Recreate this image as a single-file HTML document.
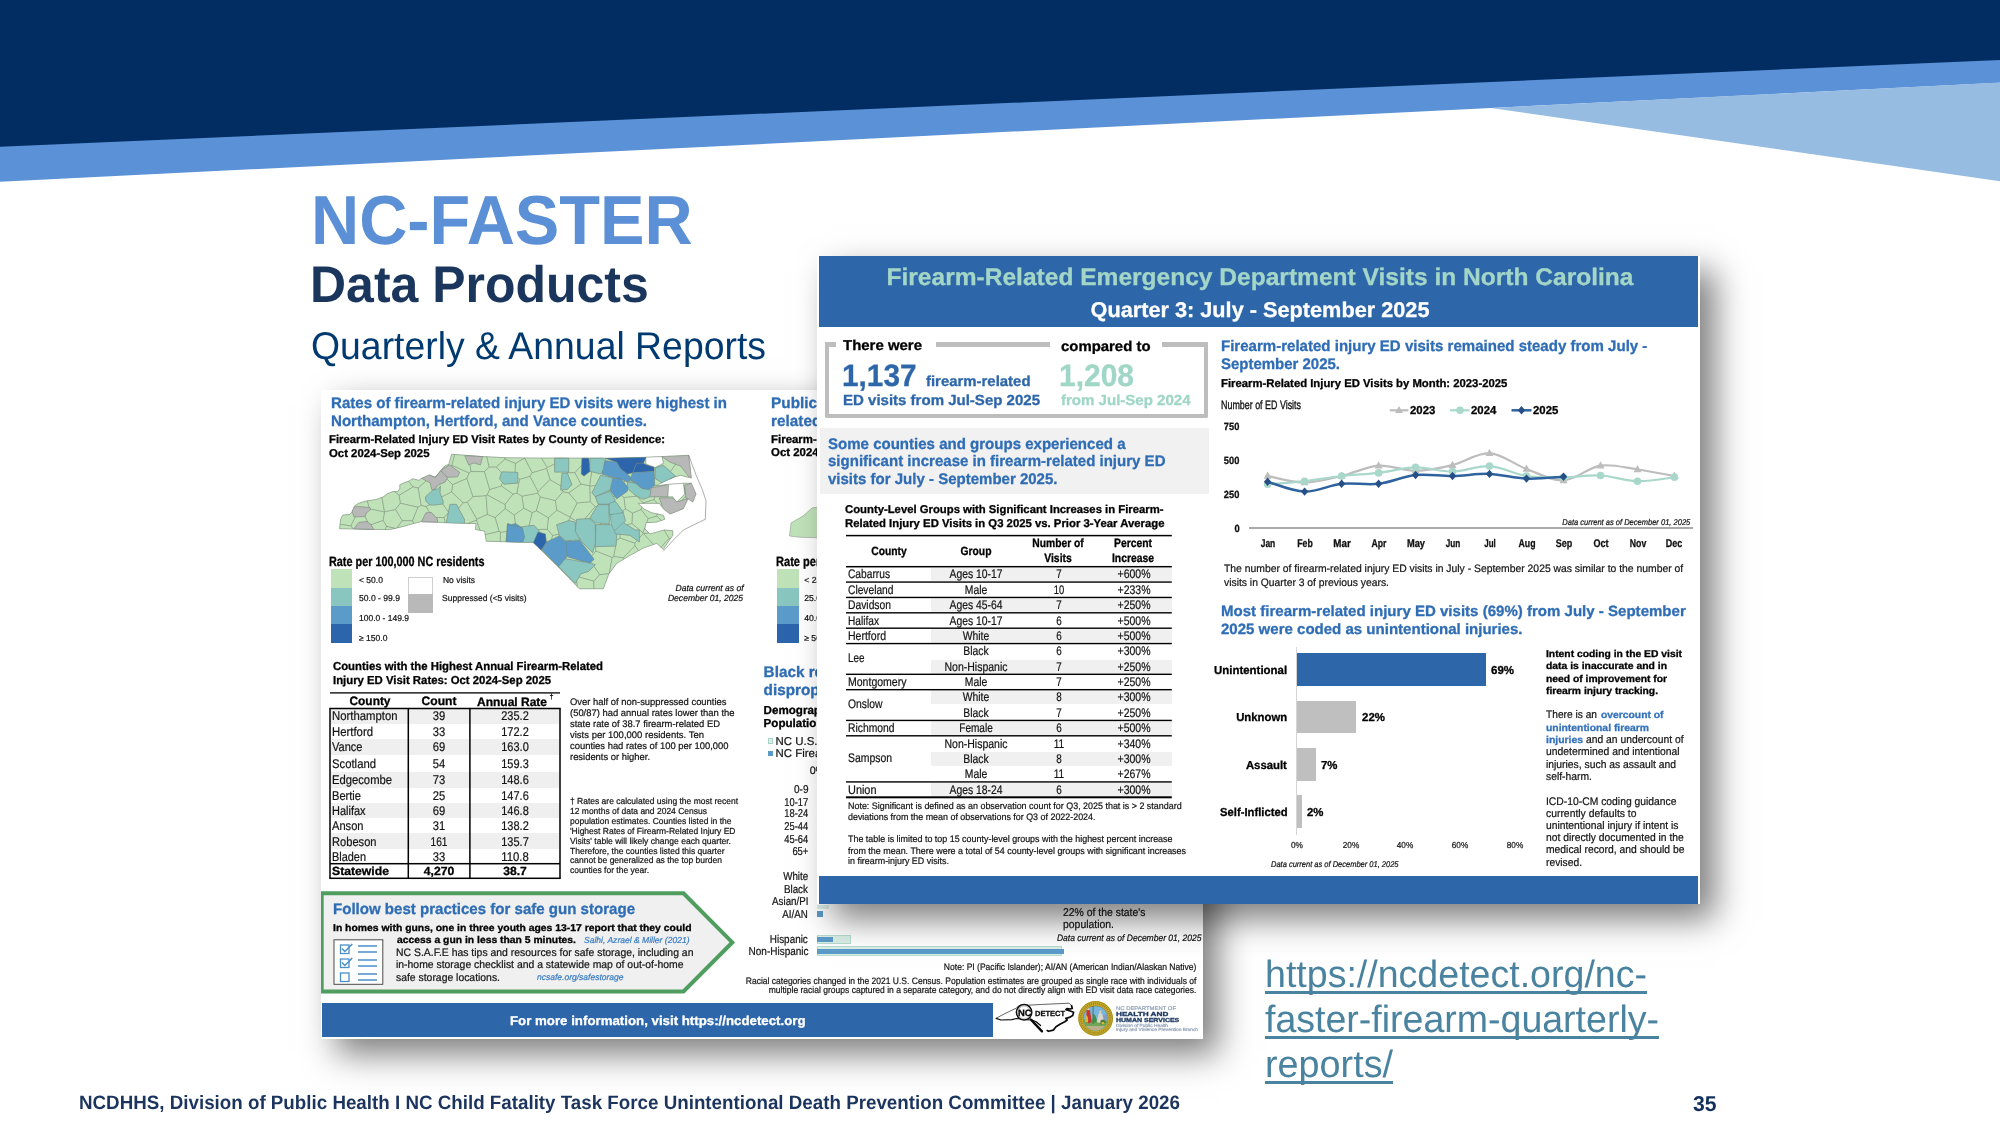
<!DOCTYPE html>
<html><head><meta charset="utf-8"><title>NC-FASTER Data Products</title>
<style>
html,body{margin:0;padding:0;background:#fff;}
body{width:2000px;height:1125px;overflow:hidden;position:relative;font-family:"Liberation Sans",sans-serif;}
.t{position:absolute;white-space:nowrap;margin:0;padding:0;text-rendering:geometricPrecision;}
.r{position:absolute;}
.abs{position:absolute;overflow:visible;}
.slide{position:absolute;left:0;top:0;width:2000px;height:1125px;overflow:hidden;will-change:transform;}
.rep{position:absolute;background:#fff;overflow:hidden;}
.in{position:absolute;}
.rep .t{-webkit-text-stroke:0.22px;}
.rep .b{-webkit-text-stroke:0.3px;}
</style></head>
<body>
<div class="slide">
<svg class="abs" style="left:0;top:0" width="2000" height="200" viewBox="0 0 2000 200">
<polygon points="0,0 2000,0 2000,82.8 0,181.7" fill="#5b91d6"/>
<polygon points="1491,107.9 2000,82.6 2000,181.2" fill="#97bce2"/>
<polygon points="0,0 2000,0 2000,59.9 0,146.8" fill="#012d62"/>
</svg>
<div class="t b" style="font-size:69.34px;line-height:78px;top:181px;color:#5b8fd6;font-weight:700;left:310.90px;transform-origin:0 0;transform:scaleX(0.9624);">NC-FASTER</div>
<div class="t b" style="font-size:51.48px;line-height:58px;top:255px;color:#1b365d;font-weight:700;left:310.30px;transform-origin:0 0;transform:scaleX(0.9709);">Data Products</div>
<div class="t" style="font-size:38.58px;line-height:43px;top:325px;color:#003a70;left:310.50px;transform-origin:0 0;transform:scaleX(0.9689);">Quarterly &amp; Annual Reports</div>
<div class="t b" style="font-size:19.42px;line-height:22px;top:1092px;color:#1c355e;font-weight:700;left:79.00px;transform-origin:0 0;transform:scaleX(0.9671);">NCDHHS, Division of Public Health I NC Child Fatality Task Force Unintentional Death Prevention Committee | January 2026</div>
<div class="t b" style="font-size:21.42px;line-height:24px;top:1092px;color:#12305e;font-weight:700;left:1692.60px;transform-origin:0 0;transform:scaleX(0.9911);">35</div>
<div class="t" style="font-size:38.06px;line-height:42px;top:954px;color:#4a839f;left:1265.00px;transform-origin:0 0;transform:scaleX(0.9870);text-decoration:underline;text-decoration-thickness:2.8px;text-underline-offset:4.2px;text-decoration-skip-ink:none;">https://ncdetect.org/nc-</div>
<div class="t" style="font-size:38.06px;line-height:42px;top:999px;color:#4a839f;left:1265.00px;transform-origin:0 0;transform:scaleX(0.9860);text-decoration:underline;text-decoration-thickness:2.8px;text-underline-offset:4.2px;text-decoration-skip-ink:none;">faster-firearm-quarterly-</div>
<div class="t" style="font-size:38.06px;line-height:42px;top:1044px;color:#4a839f;left:1265.00px;transform-origin:0 0;transform:scaleX(0.9924);text-decoration:underline;text-decoration-thickness:2.8px;text-underline-offset:4.2px;text-decoration-skip-ink:none;">reports/</div>
<div class="rep" style="left:320.5px;top:390px;width:882.5px;height:648.5px;box-shadow:15.2px 15.2px 31.8px rgba(0,0,0,0.515);">
<div class="in" style="left:-320.5px;top:-390px;width:2000px;height:1125px;">
<div class="t b" style="font-size:15.30px;line-height:17px;top:395px;color:#2f6db5;font-weight:700;left:330.70px;transform-origin:0 0;transform:scaleX(0.9848);">Rates of firearm-related injury ED visits were highest in</div>
<div class="t b" style="font-size:15.30px;line-height:17px;top:413px;color:#2f6db5;font-weight:700;left:330.70px;transform-origin:0 0;transform:scaleX(0.9862);">Northampton, Hertford, and Vance counties.</div>
<div class="t b" style="font-size:11.40px;line-height:12px;top:434px;color:#000;font-weight:700;left:329.00px;transform-origin:0 0;transform:scaleX(0.9946);">Firearm-Related Injury ED Visit Rates by County of Residence:</div>
<div class="t b" style="font-size:11.40px;line-height:12px;top:448px;color:#000;font-weight:700;left:329.00px;transform-origin:0 0;transform:scaleX(0.9981);">Oct 2024-Sep 2025</div>
<svg class="abs" style="left:335px;top:450px" width="380" height="145" viewBox="335 450 380 145">
<g stroke="#6f7d70" stroke-width="0.4" stroke-linejoin="round">
<polygon points="451.6,454.3 450.0,460.1 448.9,464.4 444.7,466.0 440.9,470.3 438.8,472.9 435.1,477.2 429.2,475.1 422.3,477.9 419.1,480.4 412.7,478.8 409.5,480.9 404.7,482.5 399.9,484.7 399.9,488.4 397.7,491.6 392.9,491.6 387.6,493.7 383.3,496.9 375.9,499.6 365.2,501.2 358.8,503.3 354.5,506.0 352.4,511.3 349.7,514.5 342.8,515.1 340.7,519.3 339.6,528.7 353.5,528.9 373.7,529.5 389.7,529.5 395.1,528.4 403.6,526.3 411.1,524.1 420.7,521.7 436.7,522.0 446.3,522.7 464.4,523.4 476.1,523.6 475.6,529.5 484.7,531.1 486.3,541.2 506.0,541.7 510.0,542.0 533.3,542.7 558.0,566.7 579.3,588.7 603.3,588.7 606.0,581.3 608.7,574.0 616.7,563.3 630.0,555.3 643.3,548.0 656.7,543.3 663.3,549.3 668.0,542.0 672.7,535.3 672.7,530.7 664.7,530.0 650.0,534.0 644.7,528.7 646.0,522.7 656.7,522.0 664.7,519.3 663.3,515.3 651.3,512.7 643.3,508.7 638.0,503.3 650.0,503.3 659.3,503.3 663.3,508.7 670.0,514.0 683.3,508.7 688.0,498.7 692.7,502.0 696.0,494.0 691.3,483.3 683.3,483.3 668.7,484.4 654.7,486.0 662.0,482.7 675.3,476.7 680.7,475.3 691.3,478.0 690.0,466.0 688.7,455.3 646.0,457.3 603.3,458.3 510.0,458.0 482.5,456.6" fill="#c0e2b9"/>
<polygon points="466.9,478.5 469.2,472.9 451.8,465.3 450.7,465.8 459.6,472.4 457.5,476.7 447.3,477.2 445.5,475.7 447.3,477.7 446.8,478.8 452.6,484.7" fill="#c0e2b9"/>
<polygon points="575.0,472.8 581.7,465.2 582.0,458.3 583.7,458.2 560.7,458.1 568.7,458.3 568.7,472.0 567.3,472.0 567.9,472.9" fill="#c0e2b9"/>
<polygon points="537.7,493.2 521.8,496.2 523.7,508.3 532.3,512.7 536.4,510.9 540.4,496.9" fill="#c0e2b9"/>
<polygon points="367.5,529.2 354.0,528.7 358.8,522.5 366.8,521.5 367.8,522.2 365.2,516.5 355.3,516.7 350.8,525.9 353.1,528.9" fill="#c0e2b9"/>
<polygon points="540.4,496.9 536.4,510.9 548.3,517.8 556.9,510.3 555.5,500.5" fill="#c0e2b9"/>
<polygon points="637.0,496.2 643.1,503.0 654.1,499.7 654.8,496.7 650.0,496.7 643.3,499.3" fill="#c0e2b9"/>
<polygon points="562.9,491.6 555.5,500.5 556.9,510.3 570.1,517.2 577.3,502.9 568.8,492.8" fill="#c0e2b9"/>
<polygon points="547.2,467.4 541.6,458.1 524.7,458.0 532.1,472.8 546.6,468.6" fill="#c0e2b9"/>
<polygon points="570.1,517.2 570.3,517.7 576.5,521.0 576.7,519.3 585.0,518.9 595.3,506.5 590.2,501.7 577.3,502.9" fill="#c0e2b9"/>
<polygon points="505.0,504.6 513.0,494.1 501.4,485.9 489.5,489.5 487.1,494.9" fill="#c0e2b9"/>
<polygon points="616.8,540.1 616.0,546.0 615.6,546.0 613.6,556.6 623.2,557.8 635.0,545.8 634.9,543.1 620.1,538.0" fill="#c0e2b9"/>
<polygon points="604.9,504.0 598.0,504.0 595.3,496.7 592.0,492.7 595.7,485.4 589.9,486.0 590.2,501.7 595.3,506.5 596.7,506.9 598.0,504.7 604.4,504.7" fill="#c0e2b9"/>
<polygon points="608.0,490.9 595.3,496.7 608.5,491.9" fill="#c0e2b9"/>
<polygon points="384.6,511.7 383.0,520.4 386.6,526.4 395.0,528.4 397.1,527.9 402.4,520.7 395.6,509.4" fill="#c0e2b9"/>
<polygon points="616.4,540.0 620.1,538.0 620.2,534.4 616.7,534.0 615.3,532.7 616.7,535.3" fill="#c0e2b9"/>
<polygon points="595.3,529.3 595.1,544.1 595.4,544.2 595.9,529.5" fill="#c0e2b9"/>
<polygon points="500.0,541.6 506.0,541.7 506.9,531.4 500.4,532.2" fill="#c0e2b9"/>
<polygon points="569.9,579.0 577.4,586.7 576.8,580.7 575.3,583.3 570.6,578.6" fill="#c0e2b9"/>
<polygon points="353.0,509.8 352.4,511.3 349.7,514.5 342.8,515.1 340.7,519.3 340.1,524.3 350.8,525.9 355.3,516.7 354.0,516.7 352.4,511.9" fill="#c0e2b9"/>
<polygon points="442.8,503.9 435.6,504.9 429.7,504.9 429.4,504.6 426.0,506.5 429.5,512.6 431.3,512.4 435.9,517.4 444.1,517.6 448.4,512.9 448.5,512.0" fill="#c0e2b9"/>
<polygon points="670.4,478.9 675.3,476.7 680.7,475.3 688.8,477.4 689.2,476.9 680.7,466.0 675.6,464.1 670.4,471.6 675.3,476.0 669.9,478.7" fill="#c0e2b9"/>
<polygon points="408.6,481.2 399.9,484.7 399.9,488.4 397.7,491.6 394.4,491.6 399.0,495.4 413.2,486.9" fill="#c0e2b9"/>
<polygon points="426.0,506.5 421.1,505.3 417.8,507.2 412.4,520.8 413.8,523.4 420.7,521.7 430.7,521.9 422.8,521.7 421.7,521.3 426.0,512.9 429.5,512.6" fill="#c0e2b9"/>
<polygon points="562.9,491.6 562.2,489.8 560.7,490.0 560.8,485.8 549.9,479.5 538.0,491.5 537.7,493.2 540.4,496.9 555.5,500.5" fill="#c0e2b9"/>
<polygon points="476.5,520.1 467.6,523.4 476.1,523.6 475.6,529.5 480.1,530.3" fill="#c0e2b9"/>
<polygon points="467.1,502.3 476.8,519.2 487.5,514.4 486.1,495.6 473.0,496.5" fill="#c0e2b9"/>
<polygon points="418.1,488.0 426.3,480.8 421.8,478.3 419.1,480.4 412.7,478.8 408.6,481.2 413.2,486.9" fill="#c0e2b9"/>
<polygon points="471.1,471.5 470.0,464.4 468.7,464.9 464.9,455.9 468.8,456.0 468.7,455.6 454.5,454.5 451.8,465.3 469.2,472.9" fill="#c0e2b9"/>
<polygon points="369.0,507.5 370.0,507.6 370.4,509.1 384.4,512.0 381.9,497.4 375.9,499.6 367.2,500.9" fill="#c0e2b9"/>
<polygon points="560.8,485.8 562.0,473.3 567.3,473.3 567.5,473.7 567.9,472.9 567.3,472.0 554.7,472.0 554.7,463.8 547.2,467.4 546.6,468.6 549.9,479.5" fill="#c0e2b9"/>
<polygon points="495.1,517.5 499.1,531.4 500.4,532.2 506.9,531.4 507.6,523.6 511.3,524.7 515.5,523.6 514.3,515.1 505.2,508.5" fill="#c0e2b9"/>
<polygon points="463.1,502.9 467.1,502.3 473.0,496.5 466.9,478.5 452.6,484.7 451.5,491.9" fill="#c0e2b9"/>
<polygon points="636.0,483.2 630.1,480.0 628.5,481.2" fill="#c0e2b9"/>
<polygon points="632.7,472.7 627.3,474.0 630.9,477.6" fill="#c0e2b9"/>
<polygon points="639.3,538.0 639.3,542.0 637.2,540.5 634.9,543.1 635.0,545.8 638.4,550.7 643.3,548.0 653.5,544.4 643.7,533.7 643.2,533.5" fill="#c0e2b9"/>
<polygon points="570.6,578.6 559.3,567.3 558.7,567.4 569.9,579.0" fill="#c0e2b9"/>
<polygon points="643.0,532.9 644.9,527.8 646.0,522.7 646.7,522.6 648.2,518.5 641.1,509.4 632.5,513.1 631.8,523.5" fill="#c0e2b9"/>
<polygon points="583.9,561.5 567.3,556.7 567.1,554.0 566.0,558.0 565.4,558.7 583.6,562.1" fill="#c0e2b9"/>
<polygon points="608.8,509.9 609.3,524.0 600.3,523.1 600.5,524.7 610.1,524.7 611.5,524.1 610.0,514.7 611.6,514.4 609.3,514.0 609.3,510.3" fill="#c0e2b9"/>
<polygon points="595.7,485.4 600.7,475.3 608.5,477.1 608.9,476.2 602.0,474.0 602.8,470.8 600.7,474.0 591.6,471.7 589.6,485.7 589.9,486.0" fill="#c0e2b9"/>
<polygon points="435.0,488.7 431.9,490.0 430.3,483.1 426.3,480.8 418.1,488.0 421.1,505.3 426.0,506.5 429.4,504.6 426.0,501.2 425.5,496.9 432.4,490.5 435.5,489.6" fill="#c0e2b9"/>
<polygon points="476.5,520.1 476.8,519.2 467.1,502.3 463.1,502.9 458.5,508.3 464.4,519.3 464.4,523.4 467.6,523.4" fill="#c0e2b9"/>
<polygon points="489.5,489.5 501.4,485.9 502.5,482.4 499.6,478.8 501.5,472.7 496.3,466.8 489.2,467.0 484.3,471.6" fill="#c0e2b9"/>
<polygon points="386.6,526.4 383.0,520.4 371.0,524.6 373.7,529.4 367.5,529.3 385.2,529.5" fill="#c0e2b9"/>
<polygon points="543.0,547.3 541.3,550.0 538.4,547.6 548.2,557.2 548.4,556.4 542.0,550.0 543.6,547.2" fill="#c0e2b9"/>
<polygon points="656.5,516.0 661.4,520.4 664.7,519.3 663.3,515.3 657.1,513.9" fill="#c0e2b9"/>
<polygon points="548.3,517.8 547.2,529.2 552.7,535.6 559.1,534.2 556.7,524.7 568.5,520.7 570.3,517.7 570.1,517.2 556.9,510.3" fill="#c0e2b9"/>
<polygon points="593.8,581.2 599.8,574.7 593.9,566.1 588.7,571.3 580.7,574.0 579.0,577.0" fill="#c0e2b9"/>
<polygon points="676.8,502.0 682.5,500.3 685.8,496.1 683.8,486.8 684.7,494.0" fill="#c0e2b9"/>
<polygon points="417.8,507.2 421.1,505.3 418.1,488.0 413.2,486.9 399.0,495.4 400.3,503.3" fill="#c0e2b9"/>
<polygon points="583.7,458.2 588.7,458.3 589.4,465.2 590.0,465.6 590.0,458.3 603.3,458.3" fill="#c0e2b9"/>
<polygon points="444.0,466.8 435.1,477.2 429.2,475.1 435.6,477.7 440.9,470.8 442.0,472.0 442.0,469.7 445.2,467.6" fill="#c0e2b9"/>
<polygon points="628.5,481.2 627.3,482.0 635.3,483.3 639.8,486.9 636.0,483.2" fill="#c0e2b9"/>
<polygon points="624.1,482.7 627.8,487.2 627.3,482.0 624.5,480.6" fill="#c0e2b9"/>
<polygon points="621.4,495.5 624.0,497.6 637.0,496.2 635.3,495.3 628.0,488.7 627.9,487.8 627.3,491.3" fill="#c0e2b9"/>
<polygon points="537.7,493.2 538.0,491.5 530.0,476.2 519.5,479.3 516.7,493.1 521.8,496.2" fill="#c0e2b9"/>
<polygon points="577.4,586.7 579.3,588.7 594.1,588.7 593.8,581.2 579.0,577.0 576.8,580.7" fill="#c0e2b9"/>
<polygon points="463.1,502.9 451.5,491.9 441.5,496.9 443.1,501.2 442.8,503.9 448.5,512.0 450.0,504.4 456.4,504.4 458.5,508.3" fill="#c0e2b9"/>
<polygon points="669.2,538.4 664.2,530.1 650.0,534.0 648.8,532.8 643.7,533.7 653.5,544.4 656.7,543.3 661.0,547.2" fill="#c0e2b9"/>
<polygon points="592.3,563.9 595.3,564.7 593.9,566.1 599.8,574.7 608.8,573.8 609.4,573.1 612.3,557.4 596.0,551.0 591.5,556.0 594.0,559.3 591.1,562.2" fill="#c0e2b9"/>
<polygon points="596.0,551.0 595.4,544.2 595.1,544.1 592.7,552.7 582.0,542.0 580.2,539.1 579.4,538.9 580.0,540.0 575.9,540.2 574.8,540.9 580.0,540.7 591.5,556.0" fill="#c0e2b9"/>
<polygon points="547.2,529.2 537.7,529.5 539.3,531.3 538.9,532.2 545.3,534.0 546.3,542.0 543.0,547.3 543.6,547.2 546.7,542.0 551.4,539.7 552.7,535.6" fill="#c0e2b9"/>
<polygon points="570.9,540.4 566.0,540.7 559.3,535.3 559.1,534.2 552.7,535.6 551.4,539.7 559.3,536.0 566.1,542.3 566.0,541.3 571.9,541.1" fill="#c0e2b9"/>
<polygon points="524.7,458.0 504.8,457.7 504.8,459.1 515.5,463.5" fill="#c0e2b9"/>
<polygon points="594.1,588.7 603.3,588.7 608.8,573.8 599.8,574.7 593.8,581.2" fill="#c0e2b9"/>
<polygon points="516.7,493.1 513.0,494.1 505.0,504.6 505.2,508.5 514.3,515.1 523.7,508.3 521.8,496.2" fill="#c0e2b9"/>
<polygon points="589.6,485.7 581.0,484.0 568.8,492.8 577.3,502.9 590.2,501.7" fill="#c0e2b9"/>
<polygon points="514.3,515.1 515.5,523.6 520.6,526.9 529.0,525.9 532.3,512.7 523.7,508.3" fill="#c0e2b9"/>
<polygon points="652.5,487.8 666.8,485.0 667.0,484.6 654.7,486.0 662.0,482.7 655.3,478.7 655.3,470.2 654.0,469.7 654.7,485.3 652.1,487.4" fill="#c0e2b9"/>
<polygon points="399.0,495.4 394.4,491.6 392.9,491.6 387.6,493.7 383.3,496.9 381.9,497.4 384.6,511.7 395.6,509.4 400.3,503.3" fill="#c0e2b9"/>
<polygon points="669.2,538.4 661.0,547.2 663.3,549.3 670.4,538.6" fill="#c0e2b9"/>
<polygon points="669.2,538.4 670.4,538.6 672.7,535.3 672.7,530.7 664.2,530.1" fill="#c0e2b9"/>
<polygon points="476.8,519.2 476.5,520.1 480.1,530.3 484.7,531.1 485.2,534.7 499.1,531.4 495.1,517.5 487.5,514.4" fill="#c0e2b9"/>
<polygon points="654.3,467.0 646.0,464.0 646.0,457.3 643.3,463.3 646.0,464.7 654.0,467.3 654.0,467.7" fill="#c0e2b9"/>
<polygon points="560.7,458.1 541.6,458.1 547.2,467.4 554.7,463.8 554.7,458.3" fill="#c0e2b9"/>
<polygon points="473.0,496.5 486.1,495.6 487.1,494.9 489.5,489.5 484.3,471.6 471.1,471.5 469.2,472.9 466.9,478.5" fill="#c0e2b9"/>
<polygon points="367.2,500.9 358.8,503.3 354.5,506.0 353.8,507.7 356.7,506.5 369.0,507.5" fill="#c0e2b9"/>
<polygon points="605.3,460.7 616.7,462.0 605.3,458.3 604.0,465.8" fill="#c0e2b9"/>
<polygon points="635.0,545.8 623.2,557.8 624.0,558.9 638.4,550.7" fill="#c0e2b9"/>
<polygon points="575.0,472.8 567.9,472.9 567.5,473.7 572.0,484.7 567.3,489.3 562.2,489.8 562.9,491.6 568.8,492.8 581.0,484.0" fill="#c0e2b9"/>
<polygon points="500.4,532.2 499.1,531.4 485.2,534.7 486.3,541.2 500.0,541.6" fill="#c0e2b9"/>
<polygon points="504.8,459.1 496.3,466.8 501.5,472.7 501.7,471.9 515.2,472.3 515.5,463.5" fill="#c0e2b9"/>
<polygon points="489.2,467.0 486.9,456.8 482.5,456.6 480.4,464.9 474.0,462.8 470.0,464.4 471.1,471.5 484.3,471.6" fill="#c0e2b9"/>
<polygon points="468.8,456.0 482.5,456.6 468.7,455.6" fill="#c0e2b9"/>
<polygon points="386.6,526.4 385.2,529.5 389.7,529.5 395.0,528.4" fill="#c0e2b9"/>
<polygon points="625.5,509.0 624.0,497.6 621.3,495.5 616.7,498.7 614.7,496.2 613.1,496.3 615.3,500.0 613.3,502.0 615.3,501.3 622.6,511.0" fill="#c0e2b9"/>
<polygon points="604.4,504.7 608.7,504.7 608.8,509.9 609.3,510.3 609.3,504.0 604.9,504.0" fill="#c0e2b9"/>
<polygon points="548.2,557.2 558.7,567.4 559.3,567.3 548.4,556.4" fill="#c0e2b9"/>
<polygon points="623.2,557.8 613.6,556.6 612.3,557.4 609.4,573.1 616.7,563.3 624.0,558.9" fill="#c0e2b9"/>
<polygon points="626.7,524.7 635.3,530.0 639.3,530.0 639.3,538.0 643.2,533.5 643.0,532.9 631.8,523.5" fill="#c0e2b9"/>
<polygon points="620.1,538.0 634.9,543.1 637.2,540.5 630.0,535.3 620.2,534.4" fill="#c0e2b9"/>
<polygon points="614.7,496.2 610.0,490.0 608.0,490.9 608.5,491.9 610.0,491.3 613.1,496.3" fill="#c0e2b9"/>
<polygon points="624.5,480.6 620.7,478.7 624.1,482.7" fill="#c0e2b9"/>
<polygon points="608.5,477.1 612.7,478.0 620.7,478.7 612.7,477.3 608.9,476.2" fill="#c0e2b9"/>
<polygon points="643.2,533.5 648.8,532.8 644.7,528.7 644.9,527.8 643.0,532.9" fill="#c0e2b9"/>
<polygon points="656.5,516.0 648.2,518.5 646.7,522.6 656.7,522.0 661.4,520.4" fill="#c0e2b9"/>
<polygon points="682.5,500.3 687.4,498.8 686.0,498.0 685.8,496.1" fill="#c0e2b9"/>
<polygon points="655.3,470.2 655.3,468.0 663.3,465.3 670.4,471.6 675.6,464.1 670.0,462.0 662.0,456.7 663.3,463.3 655.3,467.3 654.3,467.0 654.0,469.7" fill="#c0e2b9"/>
<polygon points="395.6,509.4 402.4,520.7 412.4,520.8 417.8,507.2 400.3,503.3" fill="#c0e2b9"/>
<polygon points="452.6,484.7 446.8,478.8 445.2,482.0 437.7,485.2 435.6,488.4 435.0,488.7 435.5,489.6 437.7,488.9 440.4,486.3 439.9,492.7 441.5,496.9 451.5,491.9" fill="#c0e2b9"/>
<polygon points="536.4,510.9 532.3,512.7 529.0,525.9 534.0,525.3 537.7,529.5 547.2,529.2 548.3,517.8" fill="#c0e2b9"/>
<polygon points="524.6,458.2 515.5,463.5 515.2,472.3 517.7,472.4 517.7,477.7 519.5,479.3 530.0,476.2 532.1,472.8" fill="#c0e2b9"/>
<polygon points="350.8,525.9 340.1,524.3 339.6,528.7 353.1,528.9" fill="#c0e2b9"/>
<polygon points="397.1,527.9 403.6,526.3 413.8,523.4 412.4,520.8 402.4,520.7" fill="#c0e2b9"/>
<polygon points="685.6,494.1 684.7,485.3 691.3,483.3 683.3,483.3" fill="#c0e2b9"/>
<polygon points="451.8,465.3 454.5,454.5 451.6,454.3 448.9,464.4 444.7,466.0 444.0,466.8 445.2,467.6 449.5,464.9 450.7,465.8" fill="#c0e2b9"/>
<polygon points="591.6,471.7 590.0,471.3 584.0,476.0 581.3,474.0 581.7,465.2 575.0,472.8 581.0,484.0 589.6,485.7" fill="#c0e2b9"/>
<polygon points="654.1,499.7 657.1,503.3 659.3,503.3 661.3,505.9 662.3,505.9 659.3,498.0 672.7,498.0 676.7,502.0 672.5,496.7 654.8,496.7" fill="#c0e2b9"/>
<polygon points="383.0,520.4 384.4,512.0 370.4,509.1 370.5,509.7 366.3,512.9 365.2,516.5 367.8,522.2 371.0,524.6" fill="#c0e2b9"/>
<polygon points="596.0,551.0 612.3,557.4 613.6,556.6 615.6,546.0 595.6,546.7" fill="#c0e2b9"/>
<polygon points="570.3,517.7 568.5,520.7 575.3,522.0 575.3,531.3 576.5,521.0" fill="#c0e2b9"/>
<polygon points="444.1,517.6 445.1,522.7 446.3,522.7 448.4,512.9" fill="#c0e2b9"/>
<polygon points="487.5,514.4 495.1,517.5 505.2,508.5 505.0,504.6 487.1,494.9 486.1,495.6" fill="#c0e2b9"/>
<polygon points="504.8,459.1 504.8,457.7 486.9,456.8 489.2,467.0 496.3,466.8" fill="#c0e2b9"/>
<polygon points="656.5,516.0 657.1,513.9 651.3,512.7 643.3,508.7 641.8,507.1 641.1,509.4 648.2,518.5" fill="#c0e2b9"/>
<polygon points="654.1,499.7 643.1,503.0 643.0,503.3 657.1,503.3" fill="#c0e2b9"/>
<polygon points="546.6,468.6 532.1,472.8 530.0,476.2 538.0,491.5 549.9,479.5" fill="#c0e2b9"/>
<polygon points="641.8,507.1 638.0,503.3 643.0,503.3 643.1,503.0 637.0,496.2 624.0,497.6 625.5,509.0 632.5,513.1 641.1,509.4" fill="#c0e2b9"/>
<polygon points="600.3,523.1 595.3,522.7 590.0,518.0 596.7,506.9 595.3,506.5 585.0,518.9 590.0,518.7 595.3,524.0 595.3,529.3 595.9,529.5 596.0,524.7 600.5,524.7" fill="#c0e2b9"/>
<polygon points="435.9,517.4 437.2,518.8 437.7,522.0 430.7,521.9 445.1,522.7 444.1,517.6" fill="#c0e2b9"/>
<polygon points="517.7,477.7 517.7,483.1 503.9,484.1 502.5,482.4 501.4,485.9 513.0,494.1 516.7,493.1 519.5,479.3" fill="#c0e2b9"/>
<polygon points="632.5,513.1 625.5,509.0 622.6,511.0 623.3,512.0 621.4,513.0 623.3,512.7 625.3,520.7 623.8,522.9 626.7,524.7 631.8,523.5" fill="#c0e2b9"/>
<polygon points="468.7,464.9 474.0,462.8 480.4,464.9 482.5,456.6 464.9,455.9" fill="#b8b8b8"/>
<polygon points="442.0,472.9 447.3,477.2 457.5,476.7 459.6,472.4 449.5,464.9 442.0,469.7" fill="#b8b8b8"/>
<polygon points="430.3,483.1 431.9,490.0 435.6,488.4 437.7,485.2 445.2,482.0 447.3,477.7 440.9,470.8 435.6,477.7 429.2,475.1 422.0,478.2 421.8,478.3" fill="#b8b8b8"/>
<polygon points="352.4,511.9 354.0,516.7 365.2,516.7 366.3,512.9 370.5,509.7 370.0,507.6 356.7,506.5 353.8,507.7 352.5,511.0" fill="#b8b8b8"/>
<polygon points="373.7,529.4 371.1,524.7 366.8,521.5 358.8,522.5 354.0,528.7" fill="#b8b8b8"/>
<polygon points="422.8,521.7 437.7,522.0 437.2,518.8 431.3,512.4 426.0,512.9 421.7,521.3" fill="#b8b8b8"/>
<polygon points="426.0,501.2 429.7,504.9 435.6,504.9 443.1,503.9 443.1,501.2 439.9,492.7 440.4,486.3 437.7,488.9 432.4,490.5 425.5,496.9" fill="#8ac7c1"/>
<polygon points="447.3,518.3 446.3,522.7 464.4,523.4 464.4,519.3 456.4,504.4 450.0,504.4" fill="#8ac7c1"/>
<polygon points="499.6,478.8 503.9,484.1 517.7,483.1 517.7,472.4 501.7,471.9" fill="#8ac7c1"/>
<polygon points="506.0,541.7 522.0,541.7 525.2,537.5 522.0,527.9 515.6,523.6 511.3,524.7 507.6,523.6" fill="#5b9bca"/>
<polygon points="554.7,472.0 568.7,472.0 568.7,458.3 554.7,458.3" fill="#8ac7c1"/>
<polygon points="560.7,490.0 567.3,489.3 572.0,484.7 567.3,473.3 562.0,473.3" fill="#8ac7c1"/>
<polygon points="581.3,474.0 584.0,476.0 590.0,471.3 588.7,458.3 582.0,458.3" fill="#2c65ab"/>
<polygon points="590.0,471.3 600.7,474.0 603.3,470.0 605.3,458.3 603.3,458.3 590.0,458.3" fill="#8ac7c1"/>
<polygon points="602.0,474.0 612.7,477.3 620.7,478.7 627.3,482.0 632.0,478.7 627.3,474.0 620.7,468.7 616.7,462.0 605.3,460.7" fill="#5b9bca"/>
<polygon points="616.7,462.0 620.7,468.7 627.3,474.0 632.7,472.7 636.7,463.3 643.3,463.3 646.0,457.3 605.3,458.3" fill="#2c65ab"/>
<polygon points="632.7,472.7 654.0,471.3 654.0,467.3 646.0,464.7 643.3,463.3 636.7,463.3" fill="#2c65ab"/>
<polygon points="646.0,464.0 655.3,467.3 663.3,463.3 662.0,456.7 646.0,457.3" fill="#ffffff"/>
<polygon points="670.0,462.0 680.7,466.0 688.7,476.7 691.3,478.0 690.0,466.0 688.7,455.3 662.0,456.7" fill="#b8b8b8"/>
<polygon points="655.3,478.7 662.0,482.7 670.0,478.7 675.3,476.0 663.3,465.3 655.3,468.0" fill="#8ac7c1"/>
<polygon points="630.0,480.0 635.3,482.7 642.0,488.7 648.7,490.0 654.7,485.3 654.0,471.3 632.7,472.7" fill="#5b9bca"/>
<polygon points="610.0,490.0 616.7,498.7 627.3,491.3 628.0,487.3 620.7,478.7 612.7,478.0" fill="#5b9bca"/>
<polygon points="592.0,492.7 595.3,496.7 610.0,490.0 612.7,478.0 600.7,475.3" fill="#8ac7c1"/>
<polygon points="598.0,504.0 611.3,504.0 615.3,500.0 610.0,491.3 595.3,496.7" fill="#8ac7c1"/>
<polygon points="628.0,488.7 635.3,495.3 643.3,499.3 650.0,496.7 651.3,490.0 642.0,488.7 635.3,483.3 627.3,482.0" fill="#8ac7c1"/>
<polygon points="650.0,496.7 668.0,496.7 668.7,484.7 651.3,488.0" fill="#b8b8b8"/>
<polygon points="668.0,496.7 672.7,496.7 676.7,502.0 684.7,494.0 683.3,483.3 668.7,484.4 668.6,484.4" fill="#ffffff"/>
<polygon points="686.0,498.0 687.8,499.1 688.0,498.7 692.7,502.0 696.0,494.0 691.3,483.3 684.7,485.3" fill="#b8b8b8"/>
<polygon points="663.3,508.7 670.0,514.0 683.3,508.7 688.0,498.7 676.7,502.0 672.7,498.0 659.3,498.0" fill="#b8b8b8"/>
<polygon points="590.0,518.0 595.3,522.7 609.3,524.0 608.7,504.7 598.0,504.7" fill="#8ac7c1"/>
<polygon points="609.3,514.0 616.7,515.3 623.3,512.0 615.3,501.3 609.3,503.3" fill="#8ac7c1"/>
<polygon points="612.7,531.3 620.7,527.3 625.3,520.7 623.3,512.7 610.0,514.7" fill="#8ac7c1"/>
<polygon points="559.3,535.3 566.0,540.7 580.0,540.0 575.3,531.3 575.3,522.0 568.7,520.7 556.7,524.7" fill="#8ac7c1"/>
<polygon points="575.3,531.3 582.0,542.0 592.7,552.7 595.3,543.3 595.3,524.0 590.0,518.7 576.7,519.3" fill="#8ac7c1"/>
<polygon points="595.3,546.7 616.0,546.0 616.7,535.3 611.3,524.7 596.0,524.7" fill="#8ac7c1"/>
<polygon points="616.7,534.0 630.0,535.3 639.3,542.0 639.3,530.0 635.3,530.0 623.3,522.7 614.0,531.3" fill="#8ac7c1"/>
<polygon points="523.3,542.3 534.0,542.3 539.3,531.3 534.0,525.3 522.7,526.7" fill="#8ac7c1"/>
<polygon points="507.3,541.8 510.0,542.0 519.3,542.3 522.7,542.3 524.7,536.7 522.0,527.3 507.3,524.7" fill="#5b9bca"/>
<polygon points="533.3,542.7 541.3,550.0 546.3,542.0 545.3,534.0 538.0,532.0" fill="#2c65ab"/>
<polygon points="542.0,550.0 558.7,566.7 566.0,558.0 568.0,548.7 566.0,542.0 559.3,536.0 546.7,542.0" fill="#5b9bca"/>
<polygon points="567.3,556.7 590.0,563.3 594.0,559.3 580.0,540.7 566.0,541.3" fill="#5b9bca"/>
<polygon points="575.3,583.3 580.7,574.0 588.7,571.3 595.3,564.7 590.0,563.3 565.3,558.7 558.7,566.7" fill="#8ac7c1"/>
</g>
<polyline points="688.7,455.3 696.7,476.7 702.0,488.7 706.0,500.7 705.3,519.3 694.0,524.7 683.3,530.0 672.7,540.7 663.3,551.3" fill="none" stroke="#5c5c5c" stroke-width="0.5"/>
</svg>
<div class="t b" style="font-size:13.50px;line-height:15px;top:554px;color:#000;font-weight:700;left:329.00px;transform-origin:0 0;transform:scaleX(0.8032);">Rate per 100,000 NC residents</div>
<div class="r" style="left:331.20px;top:569.30px;width:21.30px;height:18.50px;background:#c0e2b9;"></div>
<div class="r" style="left:331.20px;top:587.65px;width:21.30px;height:18.50px;background:#89c6c0;"></div>
<div class="r" style="left:331.20px;top:606.00px;width:21.30px;height:18.50px;background:#5b9bca;"></div>
<div class="r" style="left:331.20px;top:624.35px;width:21.30px;height:18.50px;background:#2c65ab;"></div>
<div class="t" style="font-size:8.66px;line-height:10px;top:575px;color:#141414;left:359.20px;transform-origin:0 0;transform:scaleX(0.9871);">&lt; 50.0</div>
<div class="t" style="font-size:8.66px;line-height:10px;top:593px;color:#141414;left:359.20px;transform-origin:0 0;transform:scaleX(0.9906);">50.0 - 99.9</div>
<div class="t" style="font-size:8.66px;line-height:10px;top:613px;color:#141414;left:359.20px;transform-origin:0 0;transform:scaleX(0.9798);">100.0 - 149.9</div>
<div class="t" style="font-size:8.66px;line-height:10px;top:633px;color:#141414;left:359.20px;transform-origin:0 0;transform:scaleX(0.9886);">≥ 150.0</div>
<div class="r" style="left:408.00px;top:576.50px;width:24.50px;height:36.00px;background:#fff;border:0.8px solid #cfcfcf;box-sizing:border-box;"></div>
<div class="r" style="left:408.00px;top:594.00px;width:24.50px;height:18.50px;background:#b9b9b9;"></div>
<div class="t" style="font-size:8.66px;line-height:10px;top:575px;color:#141414;left:443.40px;transform-origin:0 0;transform:scaleX(0.9780);">No visits</div>
<div class="t" style="font-size:8.66px;line-height:10px;top:593px;color:#141414;left:442.40px;transform-origin:0 0;transform:scaleX(0.9838);">Suppressed (&lt;5 visits)</div>
<div class="t" style="font-size:8.88px;line-height:10px;top:583px;color:#141414;font-style:italic;right:1256.60px;transform-origin:100% 0;transform:scaleX(0.9639);">Data current as of</div>
<div class="t" style="font-size:8.88px;line-height:10px;top:593px;color:#141414;font-style:italic;right:1256.60px;transform-origin:100% 0;transform:scaleX(0.9621);">December 01, 2025</div>
<div class="t b" style="font-size:11.60px;line-height:13px;top:660px;color:#000;font-weight:700;left:332.90px;transform-origin:0 0;transform:scaleX(0.9785);">Counties with the Highest Annual Firearm-Related</div>
<div class="t b" style="font-size:11.60px;line-height:13px;top:674px;color:#000;font-weight:700;left:332.90px;transform-origin:0 0;transform:scaleX(0.9787);">Injury ED Visit Rates: Oct 2024-Sep 2025</div>
<svg class="abs" style="left:329px;top:691px" width="232" height="4"><rect x="1.00" y="1.25" width="230.00" height="1.30" fill="#000"/></svg>
<div class="t b" style="font-size:12.20px;line-height:14px;top:694px;color:#000;font-weight:700;left:369.50px;transform-origin:50% 0;transform:translateX(-50%) scaleX(0.9766);">County</div>
<div class="t b" style="font-size:12.20px;line-height:14px;top:694px;color:#000;font-weight:700;left:439.30px;transform-origin:50% 0;transform:translateX(-50%) scaleX(0.9942);">Count</div>
<div class="t b" style="font-size:12.20px;line-height:14px;top:695px;color:#000;font-weight:700;left:512.00px;transform-origin:50% 0;transform:translateX(-50%) scaleX(0.9844);">Annual Rate</div>
<div class="t" style="font-size:7.22px;line-height:9px;top:692px;color:#000;left:549.50px;transform-origin:0 0;">†</div>
<div class="r" style="left:331.00px;top:707.90px;width:228.00px;height:15.80px;background:#efefef;"></div>
<div class="t" style="font-size:12.65px;line-height:14px;top:709px;color:#141414;left:332.20px;transform-origin:0 0;transform:scaleX(0.8963);">Northampton</div>
<div class="t" style="font-size:12.65px;line-height:14px;top:709px;color:#141414;left:439.30px;transform-origin:50% 0;transform:translateX(-50%) scaleX(0.8889);">39</div>
<div class="t" style="font-size:12.65px;line-height:14px;top:709px;color:#141414;left:515.00px;transform-origin:50% 0;transform:translateX(-50%) scaleX(0.8691);">235.2</div>
<div class="t" style="font-size:12.65px;line-height:14px;top:725px;color:#141414;left:332.20px;transform-origin:0 0;transform:scaleX(0.8977);">Hertford</div>
<div class="t" style="font-size:12.65px;line-height:14px;top:725px;color:#141414;left:439.30px;transform-origin:50% 0;transform:translateX(-50%) scaleX(0.8889);">33</div>
<div class="t" style="font-size:12.65px;line-height:14px;top:725px;color:#141414;left:515.00px;transform-origin:50% 0;transform:translateX(-50%) scaleX(0.8691);">172.2</div>
<div class="r" style="left:331.00px;top:738.80px;width:228.00px;height:15.80px;background:#efefef;"></div>
<div class="t" style="font-size:12.65px;line-height:14px;top:740px;color:#141414;left:332.20px;transform-origin:0 0;transform:scaleX(0.8738);">Vance</div>
<div class="t" style="font-size:12.65px;line-height:14px;top:740px;color:#141414;left:439.30px;transform-origin:50% 0;transform:translateX(-50%) scaleX(0.8889);">69</div>
<div class="t" style="font-size:12.65px;line-height:14px;top:740px;color:#141414;left:515.00px;transform-origin:50% 0;transform:translateX(-50%) scaleX(0.8691);">163.0</div>
<div class="t" style="font-size:12.65px;line-height:14px;top:757px;color:#141414;left:332.20px;transform-origin:0 0;transform:scaleX(0.8943);">Scotland</div>
<div class="t" style="font-size:12.65px;line-height:14px;top:757px;color:#141414;left:439.30px;transform-origin:50% 0;transform:translateX(-50%) scaleX(0.8889);">54</div>
<div class="t" style="font-size:12.65px;line-height:14px;top:757px;color:#141414;left:515.00px;transform-origin:50% 0;transform:translateX(-50%) scaleX(0.8691);">159.3</div>
<div class="r" style="left:331.00px;top:771.80px;width:228.00px;height:15.80px;background:#efefef;"></div>
<div class="t" style="font-size:12.65px;line-height:14px;top:773px;color:#141414;left:332.20px;transform-origin:0 0;transform:scaleX(0.8893);">Edgecombe</div>
<div class="t" style="font-size:12.65px;line-height:14px;top:773px;color:#141414;left:439.30px;transform-origin:50% 0;transform:translateX(-50%) scaleX(0.8889);">73</div>
<div class="t" style="font-size:12.65px;line-height:14px;top:773px;color:#141414;left:515.00px;transform-origin:50% 0;transform:translateX(-50%) scaleX(0.8691);">148.6</div>
<div class="t" style="font-size:12.65px;line-height:14px;top:789px;color:#141414;left:332.20px;transform-origin:0 0;transform:scaleX(0.8780);">Bertie</div>
<div class="t" style="font-size:12.65px;line-height:14px;top:789px;color:#141414;left:439.30px;transform-origin:50% 0;transform:translateX(-50%) scaleX(0.8889);">25</div>
<div class="t" style="font-size:12.65px;line-height:14px;top:789px;color:#141414;left:515.00px;transform-origin:50% 0;transform:translateX(-50%) scaleX(0.8691);">147.6</div>
<div class="r" style="left:331.00px;top:802.60px;width:228.00px;height:15.80px;background:#efefef;"></div>
<div class="t" style="font-size:12.65px;line-height:14px;top:804px;color:#141414;left:332.20px;transform-origin:0 0;transform:scaleX(0.8670);">Halifax</div>
<div class="t" style="font-size:12.65px;line-height:14px;top:804px;color:#141414;left:439.30px;transform-origin:50% 0;transform:translateX(-50%) scaleX(0.8889);">69</div>
<div class="t" style="font-size:12.65px;line-height:14px;top:804px;color:#141414;left:515.00px;transform-origin:50% 0;transform:translateX(-50%) scaleX(0.8691);">146.8</div>
<div class="t" style="font-size:12.65px;line-height:14px;top:819px;color:#141414;left:332.20px;transform-origin:0 0;transform:scaleX(0.8788);">Anson</div>
<div class="t" style="font-size:12.65px;line-height:14px;top:819px;color:#141414;left:439.30px;transform-origin:50% 0;transform:translateX(-50%) scaleX(0.8889);">31</div>
<div class="t" style="font-size:12.65px;line-height:14px;top:819px;color:#141414;left:515.00px;transform-origin:50% 0;transform:translateX(-50%) scaleX(0.8691);">138.2</div>
<div class="r" style="left:331.00px;top:833.10px;width:228.00px;height:15.80px;background:#efefef;"></div>
<div class="t" style="font-size:12.65px;line-height:14px;top:835px;color:#141414;left:332.20px;transform-origin:0 0;transform:scaleX(0.8793);">Robeson</div>
<div class="t" style="font-size:12.65px;line-height:14px;top:835px;color:#141414;left:439.30px;transform-origin:50% 0;transform:translateX(-50%) scaleX(0.8059);">161</div>
<div class="t" style="font-size:12.65px;line-height:14px;top:835px;color:#141414;left:515.00px;transform-origin:50% 0;transform:translateX(-50%) scaleX(0.8691);">135.7</div>
<div class="t" style="font-size:12.65px;line-height:14px;top:850px;color:#141414;left:332.20px;transform-origin:0 0;transform:scaleX(0.8635);">Bladen</div>
<div class="t" style="font-size:12.65px;line-height:14px;top:850px;color:#141414;left:439.30px;transform-origin:50% 0;transform:translateX(-50%) scaleX(0.8889);">33</div>
<div class="t" style="font-size:12.65px;line-height:14px;top:850px;color:#141414;left:515.00px;transform-origin:50% 0;transform:translateX(-50%) scaleX(0.8957);">110.8</div>
<svg class="abs" style="left:328px;top:706px" width="234" height="5"><rect x="1.30" y="1.75" width="231.40" height="1.50" fill="#000"/></svg>
<svg class="abs" style="left:328px;top:876px" width="234" height="5"><rect x="1.30" y="1.55" width="231.40" height="1.50" fill="#000"/></svg>
<svg class="abs" style="left:328px;top:707px" width="4" height="173"><rect x="1.25" y="1.50" width="1.50" height="169.80" fill="#000"/></svg>
<svg class="abs" style="left:558px;top:707px" width="4" height="173"><rect x="1.25" y="1.50" width="1.50" height="169.80" fill="#000"/></svg>
<svg class="abs" style="left:406px;top:707px" width="5" height="173"><rect x="1.55" y="1.50" width="1.50" height="169.80" fill="#000"/></svg>
<svg class="abs" style="left:468px;top:707px" width="4" height="173"><rect x="1.15" y="1.50" width="1.50" height="169.80" fill="#000"/></svg>
<svg class="abs" style="left:329px;top:861px" width="232" height="5"><rect x="1.00" y="1.95" width="230.00" height="1.50" fill="#000"/></svg>
<div class="t b" style="font-size:11.80px;line-height:14px;top:864px;color:#000;font-weight:700;left:332.20px;transform-origin:0 0;transform:scaleX(1.0349);">Statewide</div>
<div class="t b" style="font-size:11.80px;line-height:14px;top:864px;color:#000;font-weight:700;left:439.30px;transform-origin:50% 0;transform:translateX(-50%) scaleX(1.0328);">4,270</div>
<div class="t b" style="font-size:11.80px;line-height:14px;top:864px;color:#000;font-weight:700;left:515.00px;transform-origin:50% 0;transform:translateX(-50%) scaleX(1.0231);">38.7</div>
<div class="t" style="font-size:9.55px;line-height:11px;top:697px;color:#141414;left:570.00px;transform-origin:0 0;transform:scaleX(0.9862);">Over half of non-suppressed counties</div>
<div class="t" style="font-size:9.55px;line-height:11px;top:708px;color:#141414;left:570.00px;transform-origin:0 0;transform:scaleX(0.9871);">(50/87) had annual rates lower than the</div>
<div class="t" style="font-size:9.55px;line-height:11px;top:719px;color:#141414;left:570.00px;transform-origin:0 0;transform:scaleX(0.9849);">state rate of 38.7 firearm-related ED</div>
<div class="t" style="font-size:9.55px;line-height:11px;top:730px;color:#141414;left:570.00px;transform-origin:0 0;transform:scaleX(0.9954);">vists per 100,000 residents. Ten</div>
<div class="t" style="font-size:9.55px;line-height:11px;top:741px;color:#141414;left:570.00px;transform-origin:0 0;transform:scaleX(0.9855);">counties had rates of 100 per 100,000</div>
<div class="t" style="font-size:9.55px;line-height:11px;top:752px;color:#141414;left:570.00px;transform-origin:0 0;transform:scaleX(0.9852);">residents or higher.</div>
<div class="t" style="font-size:8.77px;line-height:10px;top:796px;color:#141414;left:570.00px;transform-origin:0 0;transform:scaleX(0.9685);">† Rates are calculated using the most recent</div>
<div class="t" style="font-size:8.77px;line-height:10px;top:806px;color:#141414;left:570.00px;transform-origin:0 0;transform:scaleX(0.9694);">12 months of data and 2024 Census</div>
<div class="t" style="font-size:8.77px;line-height:10px;top:816px;color:#141414;left:570.00px;transform-origin:0 0;transform:scaleX(0.9691);">population estimates. Counties listed in the</div>
<div class="t" style="font-size:8.77px;line-height:10px;top:826px;color:#141414;left:570.00px;transform-origin:0 0;transform:scaleX(0.9694);">'Highest Rates of Firearm-Related Injury ED</div>
<div class="t" style="font-size:8.77px;line-height:10px;top:836px;color:#141414;left:570.00px;transform-origin:0 0;transform:scaleX(0.9744);">Visits' table will likely change each quarter.</div>
<div class="t" style="font-size:8.77px;line-height:10px;top:846px;color:#141414;left:570.00px;transform-origin:0 0;transform:scaleX(0.9697);">Therefore, the counties listed this quarter</div>
<div class="t" style="font-size:8.77px;line-height:10px;top:855px;color:#141414;left:570.00px;transform-origin:0 0;transform:scaleX(0.9685);">cannot be generalized as the top burden</div>
<div class="t" style="font-size:8.77px;line-height:10px;top:865px;color:#141414;left:570.00px;transform-origin:0 0;transform:scaleX(0.9708);">counties for the year.</div>
<svg class="abs" style="left:315px;top:885px" width="430" height="115" viewBox="315 885 430 115">
<polygon points="321.7,893.3 683.5,893.3 732.3,942.4 683.5,991.5 321.7,991.5" fill="#f0f0f0" stroke="#4f9e5f" stroke-width="4" stroke-linejoin="miter"/>
<rect x="334" y="939.8" width="48.8" height="44.5" fill="#fff" stroke="#4a4a4a" stroke-width="1"/>
<g stroke="#4b8fc6" stroke-width="1.3" fill="none">
<rect x="340.5" y="945" width="8.5" height="8.5"/><rect x="340.5" y="959" width="8.5" height="8.5"/><rect x="340.5" y="973" width="8.5" height="8.5"/>
<path d="M342 948.5l2.8 3 7.5-7.5M342 962.5l2.8 3 7.5-7.5" stroke-width="1.5"/>
<path d="M358 946h19M358 952h19M358 960h19M358 966h19M358 974h19M358 980h19" stroke-width="1.4"/>
</g>
</svg>
<div class="t b" style="font-size:15.30px;line-height:17px;top:901px;color:#2f6db5;font-weight:700;left:332.90px;transform-origin:0 0;transform:scaleX(0.9842);">Follow best practices for safe gun storage</div>
<div class="t b" style="font-size:9.80px;line-height:11px;top:923px;color:#000;font-weight:700;left:333.00px;transform-origin:0 0;transform:scaleX(1.0605);">In homes with guns, one in three youth ages 13-17 report that they could</div>
<div class="t b" style="font-size:9.80px;line-height:11px;top:935px;color:#000;font-weight:700;left:397.10px;transform-origin:0 0;transform:scaleX(1.0570);">access a gun in less than 5 minutes.</div>
<div class="t" style="font-size:8.66px;line-height:10px;top:935px;color:#3a7cc4;font-style:italic;left:583.80px;transform-origin:0 0;transform:scaleX(0.9863);">Salhi, Azrael &amp; Miller (2021)</div>
<div class="t" style="font-size:10.88px;line-height:12px;top:947px;color:#141414;left:396.30px;transform-origin:0 0;transform:scaleX(0.9593);">NC S.A.F.E has tips and resources for safe storage, including an</div>
<div class="t" style="font-size:10.88px;line-height:12px;top:959px;color:#141414;left:396.30px;transform-origin:0 0;transform:scaleX(0.9569);">in-home storage checklist and a statewide map of out-of-home</div>
<div class="t" style="font-size:10.88px;line-height:12px;top:972px;color:#141414;left:396.30px;transform-origin:0 0;transform:scaleX(0.9556);">safe storage locations.</div>
<div class="t" style="font-size:8.66px;line-height:10px;top:972px;color:#3a7cc4;font-style:italic;left:536.70px;transform-origin:0 0;transform:scaleX(0.9823);">ncsafe.org/safestorage</div>
<div class="r" style="left:321.70px;top:1002.60px;width:671.40px;height:34.50px;background:#2e66aa;"></div>
<div class="t b" style="font-size:12.80px;line-height:15px;top:1013px;color:#fff;font-weight:700;left:509.70px;transform-origin:0 0;transform:scaleX(1.0368);">For more information, visit https://ncdetect.org</div>
<svg class="abs" style="left:993px;top:1000px" width="210" height="38" viewBox="993 1000 210 38">
<polygon points="996.1,1018.4 1001.0,1015.6 1009.8,1011.2 1016.4,1008.1 1018.8,1005.7 1069.2,1003.2 1071.6,1005.7 1073.6,1012.3 1072.7,1015.6 1065.9,1018.4 1064.8,1021.8 1056.0,1026.8 1053.3,1030.1 1048.5,1031.3 1040.6,1025.5 1036.2,1021.7 1031.8,1020.0 1016.4,1018.5 1001.0,1020.0" fill="#fdfdfd"/>
<polyline points="996.1,1018.4 1001.0,1015.6 1009.8,1011.2 1016.4,1008.1 1018.8,1005.7 1042.8,1004.4 1069.2,1003.2 1071.6,1005.7" fill="none" stroke="#222" stroke-width="0.7" stroke-linejoin="round"/>
<polyline points="1071.6,1005.7 1072.3,1008.5 1070.1,1009.0 1067.0,1008.5 1065.9,1009.6 1070.3,1011.0 1073.6,1012.3 1072.7,1015.6 1069.4,1017.4 1065.9,1018.4 1067.2,1020.0 1064.8,1021.8 1060.4,1024.0 1056.0,1026.8 1053.3,1030.1 1048.5,1031.3 1047.2,1030.6" fill="none" stroke="#0a0a0a" stroke-width="1.7" stroke-linejoin="round" stroke-linecap="round"/>
<polyline points="1040.6,1025.5 1036.2,1021.7 1031.8,1020.0 1026.3,1019.6 1016.4,1018.5 1012.0,1019.6 1001.0,1020.0 996.1,1018.4" fill="none" stroke="#0a0a0a" stroke-width="1.2" stroke-linejoin="round" stroke-linecap="round"/>
<circle cx="1024.1" cy="1012.3" r="7.7" fill="#fff" stroke="#111" stroke-width="1.5"/>
<circle cx="1024.1" cy="1012.3" r="6.2" fill="none" stroke="#777" stroke-width="0.4"/>
<path d="M1029.6 1018 L1031.2 1019.9" stroke="#555" stroke-width="1.6"/>
<path d="M1031.2 1019.9 L1042 1031.3" stroke="#0a0a0a" stroke-width="2.4" stroke-linecap="round"/>
<circle cx="1095.6" cy="1018.4" r="17.4" fill="#cdb02c"/>
<circle cx="1095.6" cy="1018.4" r="16.8" fill="none" stroke="#8f7a1c" stroke-width="0.7"/>
<circle cx="1095.6" cy="1018.4" r="14.7" fill="none" stroke="#9c8420" stroke-width="2.2" stroke-dasharray="1.1 0.9"/>
<circle cx="1095.6" cy="1018.4" r="12.6" fill="#74b6de" stroke="#8a741b" stroke-width="0.6"/>
<clipPath id="sealclip"><circle cx="1095.6" cy="1018.4" r="12.3"/></clipPath>
<g clip-path="url(#sealclip)"><rect x="1082" y="1019.5" width="28" height="12" fill="#6da757"/><rect x="1082" y="1026" width="28" height="6" fill="#b9b08a"/><path d="M1099 1016 l8 -2 4 3 v4 h-12z" fill="#7f9fc0"/><path d="M1086.5 1010.5 q2.2 -2 3.6 0.4 l1.6 10.8 q-2.6 2.6 -5.6 0.6z" fill="#c8362c"/><path d="M1086.2 1015 q2.5 1.5 1.8 7.5 l-3 -0.5z" fill="#d9b83a"/><circle cx="1088.2" cy="1009" r="1.2" fill="#e7c9a4"/><rect x="1092.7" y="1007" width="0.7" height="17" fill="#5a4a2a"/><path d="M1092.2 1007 h1.8 l-0.4 -1.8 h-1z" fill="#c0392b"/><path d="M1092.9 1013.5 q3.5 1.2 4 8.5 l-4.2 1z" fill="#3f8f47"/><circle cx="1100.3" cy="1011.8" r="1.25" fill="#e7c9a4"/><path d="M1098.7 1013.3 q2 -1 3.6 0.8 l1.8 7.2 q-3.6 2.8 -7.4 0.8z" fill="#d7d5cf"/><path d="M1100.5 1020.5 q3.8 -2.4 5.6 1.6 q-2.4 3 -5.8 2.2z" fill="#5b7a36"/><path d="M1101.5 1022.6 q2 -1.4 3 0.6 q-1.4 1.4 -3 0.8z" fill="#e3c02f"/></g>
</svg>
<div class="t b" style="font-size:9.20px;line-height:10px;top:1008px;color:#0a0a0a;font-weight:700;left:1017.60px;transform-origin:0 0;transform:scaleX(1.0240);">NC</div>
<div class="t b" style="font-size:7.40px;line-height:9px;top:1009px;color:#111;font-weight:700;left:1034.70px;transform-origin:0 0;transform:scaleX(1.0143);">DETECT</div>
<div class="t" style="font-size:5.44px;line-height:6px;top:1006px;color:#93a3b8;left:1116.00px;transform-origin:0 0;transform:scaleX(1.0851);">NC DEPARTMENT OF</div>
<div class="t b" style="font-size:5.80px;line-height:6px;top:1012px;color:#1e3a63;font-weight:700;left:1116.00px;transform-origin:0 0;transform:scaleX(1.4123);">HEALTH AND</div>
<div class="t b" style="font-size:5.80px;line-height:6px;top:1018px;color:#1e3a63;font-weight:700;left:1116.00px;transform-origin:0 0;transform:scaleX(1.2079);">HUMAN SERVICES</div>
<div class="t" style="font-size:4.55px;line-height:5px;top:1023px;color:#93a3b8;left:1116.00px;transform-origin:0 0;transform:scaleX(1.0605);">Division of Public Health</div>
<div class="t" style="font-size:4.55px;line-height:5px;top:1027px;color:#93a3b8;left:1116.00px;transform-origin:0 0;transform:scaleX(1.0613);">Injury and Violence Prevention Branch</div>
<div class="t b" style="font-size:15.30px;line-height:17px;top:395px;color:#2f6db5;font-weight:700;left:771.10px;transform-origin:0 0;">Public health</div>
<div class="t b" style="font-size:15.30px;line-height:17px;top:413px;color:#2f6db5;font-weight:700;left:771.10px;transform-origin:0 0;">related injury</div>
<div class="t b" style="font-size:11.40px;line-height:12px;top:434px;color:#000;font-weight:700;left:771.10px;transform-origin:0 0;">Firearm-Related</div>
<div class="t b" style="font-size:11.40px;line-height:12px;top:447px;color:#000;font-weight:700;left:771.10px;transform-origin:0 0;">Oct 2024-Sep</div>
<svg class="abs" style="left:785px;top:500px" width="40" height="45" viewBox="785 500 40 45">
<path d="M830 505 L812 508 L803 516 L796 520 L791 523 L789.5 536 L800 537.3 L830 538 Z" fill="#c0e2b9" stroke="#7d8c7d" stroke-width="0.5"/>
</svg>
<div class="t b" style="font-size:13.50px;line-height:15px;top:554px;color:#000;font-weight:700;left:775.60px;transform-origin:0 0;transform:scaleX(0.82);">Rate per 100</div>
<div class="r" style="left:777.30px;top:569.30px;width:21.30px;height:18.50px;background:#c0e2b9;"></div>
<div class="r" style="left:777.30px;top:587.65px;width:21.30px;height:18.50px;background:#89c6c0;"></div>
<div class="r" style="left:777.30px;top:606.00px;width:21.30px;height:18.50px;background:#5b9bca;"></div>
<div class="r" style="left:777.30px;top:624.35px;width:21.30px;height:18.50px;background:#2c65ab;"></div>
<div class="t" style="font-size:8.66px;line-height:10px;top:575px;color:#141414;left:804.20px;transform-origin:0 0;">&lt; 25.0</div>
<div class="t" style="font-size:8.66px;line-height:10px;top:593px;color:#141414;left:804.20px;transform-origin:0 0;">25.0 - 39.9</div>
<div class="t" style="font-size:8.66px;line-height:10px;top:613px;color:#141414;left:804.20px;transform-origin:0 0;">40.0 - 49.9</div>
<div class="t" style="font-size:8.66px;line-height:10px;top:633px;color:#141414;left:804.20px;transform-origin:0 0;">≥ 50.0</div>
<div class="t b" style="font-size:15.30px;line-height:17px;top:664px;color:#2f6db5;font-weight:700;left:763.60px;transform-origin:0 0;">Black residents</div>
<div class="t b" style="font-size:15.30px;line-height:17px;top:682px;color:#2f6db5;font-weight:700;left:763.60px;transform-origin:0 0;">dispropor</div>
<div class="t b" style="font-size:11.60px;line-height:13px;top:704px;color:#000;font-weight:700;left:763.60px;transform-origin:0 0;">Demographics</div>
<div class="t b" style="font-size:11.60px;line-height:13px;top:717px;color:#000;font-weight:700;left:763.60px;transform-origin:0 0;">Population</div>
<div class="r" style="left:767.50px;top:738.30px;width:5.30px;height:5.30px;background:#d9efe6;border:0.6px solid #a9d3c3;box-sizing:border-box;"></div>
<div class="r" style="left:767.50px;top:750.80px;width:5.30px;height:5.30px;background:#5b9bca;"></div>
<div class="t" style="font-size:11.43px;line-height:12px;top:736px;color:#141414;left:775.60px;transform-origin:0 0;">NC U.S. Census</div>
<div class="t" style="font-size:11.43px;line-height:12px;top:748px;color:#141414;left:775.60px;transform-origin:0 0;">NC Firearm</div>
<div class="t" style="font-size:10.66px;line-height:12px;top:765px;color:#141414;left:809.70px;transform-origin:0 0;">0%</div>
<div class="t" style="font-size:11.43px;line-height:12px;top:784px;color:#141414;right:1191.80px;transform-origin:100% 0;transform:scaleX(0.8780);">0-9</div>
<div class="t" style="font-size:11.43px;line-height:12px;top:797px;color:#141414;right:1191.80px;transform-origin:100% 0;transform:scaleX(0.8214);">10-17</div>
<div class="t" style="font-size:11.43px;line-height:12px;top:808px;color:#141414;right:1191.80px;transform-origin:100% 0;transform:scaleX(0.8214);">18-24</div>
<div class="t" style="font-size:11.43px;line-height:12px;top:821px;color:#141414;right:1191.80px;transform-origin:100% 0;transform:scaleX(0.8214);">25-44</div>
<div class="t" style="font-size:11.43px;line-height:12px;top:834px;color:#141414;right:1191.80px;transform-origin:100% 0;transform:scaleX(0.8214);">45-64</div>
<div class="t" style="font-size:11.43px;line-height:12px;top:846px;color:#141414;right:1191.80px;transform-origin:100% 0;transform:scaleX(0.8258);">65+</div>
<div class="t" style="font-size:11.43px;line-height:12px;top:871px;color:#141414;right:1191.80px;transform-origin:100% 0;transform:scaleX(0.8561);">White</div>
<div class="t" style="font-size:11.43px;line-height:12px;top:884px;color:#141414;right:1191.80px;transform-origin:100% 0;transform:scaleX(0.8591);">Black</div>
<div class="t" style="font-size:11.43px;line-height:12px;top:896px;color:#141414;right:1191.80px;transform-origin:100% 0;transform:scaleX(0.8579);">Asian/PI</div>
<div class="t" style="font-size:11.43px;line-height:12px;top:909px;color:#141414;right:1191.80px;transform-origin:100% 0;transform:scaleX(0.8545);">AI/AN</div>
<div class="t" style="font-size:11.43px;line-height:12px;top:934px;color:#141414;right:1191.80px;transform-origin:100% 0;transform:scaleX(0.8673);">Hispanic</div>
<div class="t" style="font-size:11.43px;line-height:12px;top:946px;color:#141414;right:1191.80px;transform-origin:100% 0;transform:scaleX(0.8751);">Non-Hispanic</div>
<div class="r" style="left:816.60px;top:905.20px;width:12.50px;height:3.50px;background:#d9efe6;"></div>
<div class="r" style="left:816.60px;top:911.30px;width:6.60px;height:5.80px;background:#5b9bca;"></div>
<div class="r" style="left:816.60px;top:934.90px;width:34.30px;height:8.80px;background:#d9efe6;border:0.6px solid #b6dccd;box-sizing:border-box;"></div>
<div class="r" style="left:816.60px;top:936.80px;width:16.20px;height:5.00px;background:#5b9bca;"></div>
<div class="r" style="left:816.60px;top:946.30px;width:245.00px;height:9.90px;background:#d9efe6;border:0.6px solid #b6dccd;box-sizing:border-box;"></div>
<div class="r" style="left:816.60px;top:948.90px;width:247.50px;height:5.20px;background:#5b9bca;"></div>
<div class="t" style="font-size:11.32px;line-height:12px;top:907px;color:#141414;left:1063.30px;transform-origin:0 0;transform:scaleX(0.9210);">22% of the state's</div>
<div class="t" style="font-size:11.32px;line-height:12px;top:919px;color:#141414;left:1063.30px;transform-origin:0 0;transform:scaleX(0.9213);">population.</div>
<div class="t" style="font-size:9.32px;line-height:10px;top:933px;color:#141414;font-style:italic;right:799.00px;transform-origin:100% 0;transform:scaleX(0.9122);">Data current as of December 01, 2025</div>
<div class="t" style="font-size:9.32px;line-height:10px;top:962px;color:#141414;right:803.30px;transform-origin:100% 0;transform:scaleX(0.9170);">Note: PI (Pacific Islander); AI/AN (American Indian/Alaskan Native)</div>
<div class="t" style="font-size:9.32px;line-height:10px;top:976px;color:#141414;right:803.30px;transform-origin:100% 0;transform:scaleX(0.9132);">Racial categories changed in the 2021 U.S. Census. Population estimates are grouped as single race with individuals of</div>
<div class="t" style="font-size:9.32px;line-height:10px;top:985px;color:#141414;right:803.30px;transform-origin:100% 0;transform:scaleX(0.9149);">multiple racial groups captured in a separate category, and do not directly align with ED visit data race categories.</div>
</div></div>
<div class="rep" style="left:817px;top:255.5px;width:883px;height:648.5px;box-shadow:15.2px 15.2px 31.8px rgba(0,0,0,0.515);">
<div class="in" style="left:-817px;top:-255.5px;width:2000px;height:1125px;">
<div class="r" style="left:818.60px;top:256.00px;width:879.60px;height:71.00px;background:#2e66aa;"></div>
<div class="t b" style="font-size:24.00px;line-height:27px;top:264px;color:#a3d6c7;font-weight:700;left:1259.50px;transform-origin:50% 0;transform:translateX(-50%) scaleX(1.0227);">Firearm-Related Emergency Department Visits in North Carolina</div>
<div class="t b" style="font-size:21.33px;line-height:24px;top:298px;color:#fff;font-weight:700;left:1259.50px;transform-origin:50% 0;transform:translateX(-50%) scaleX(1.0177);">Quarter 3: July - September 2025</div>
<div class="r" style="left:825.20px;top:342.40px;width:383.00px;height:76.00px;background:transparent;border:4.4px solid #bdbdbd;border-top:none;box-sizing:border-box;border-radius:0 0 2px 2px;"></div>
<div class="r" style="left:825.20px;top:342.40px;width:11.00px;height:4.40px;background:#bdbdbd;"></div>
<div class="r" style="left:936.20px;top:342.40px;width:113.40px;height:4.40px;background:#bdbdbd;"></div>
<div class="r" style="left:1161.60px;top:342.40px;width:46.60px;height:4.40px;background:#bdbdbd;"></div>
<div class="t b" style="font-size:14.20px;line-height:16px;top:338px;color:#000;font-weight:700;left:843.30px;transform-origin:0 0;transform:scaleX(1.0544);">There were</div>
<div class="t b" style="font-size:14.20px;line-height:16px;top:339px;color:#000;font-weight:700;left:1061.00px;transform-origin:0 0;transform:scaleX(1.0512);">compared to</div>
<div class="t b" style="font-size:31.00px;line-height:35px;top:358px;color:#2e66aa;font-weight:700;left:842.30px;transform-origin:0 0;transform:scaleX(0.9603);">1,137</div>
<div class="t b" style="font-size:14.60px;line-height:16px;top:374px;color:#2e66aa;font-weight:700;left:925.60px;transform-origin:0 0;transform:scaleX(1.0225);">firearm-related</div>
<div class="t b" style="font-size:14.60px;line-height:16px;top:393px;color:#2e66aa;font-weight:700;left:843.30px;transform-origin:0 0;transform:scaleX(1.0291);">ED visits from Jul-Sep 2025</div>
<div class="t b" style="font-size:31.00px;line-height:35px;top:358px;color:#9fd6c5;font-weight:700;left:1058.90px;transform-origin:0 0;transform:scaleX(0.9668);">1,208</div>
<div class="t b" style="font-size:14.60px;line-height:16px;top:393px;color:#9fd6c5;font-weight:700;left:1061.10px;transform-origin:0 0;transform:scaleX(1.0301);">from Jul-Sep 2024</div>
<div class="r" style="left:820.40px;top:428.40px;width:388.50px;height:66.00px;background:#f1f1f1;"></div>
<div class="t b" style="font-size:15.30px;line-height:17px;top:436px;color:#2f6db5;font-weight:700;left:827.80px;transform-origin:0 0;transform:scaleX(0.9831);">Some counties and groups experienced a</div>
<div class="t b" style="font-size:15.30px;line-height:17px;top:453px;color:#2f6db5;font-weight:700;left:827.80px;transform-origin:0 0;transform:scaleX(0.9827);">significant increase in firearm-related injury ED</div>
<div class="t b" style="font-size:15.30px;line-height:17px;top:471px;color:#2f6db5;font-weight:700;left:827.80px;transform-origin:0 0;transform:scaleX(0.9816);">visits for July - September 2025.</div>
<div class="t b" style="font-size:11.30px;line-height:12px;top:504px;color:#000;font-weight:700;left:845.10px;transform-origin:0 0;transform:scaleX(1.0007);">County-Level Groups with Significant Increases in Firearm-</div>
<div class="t b" style="font-size:11.30px;line-height:12px;top:518px;color:#000;font-weight:700;left:845.10px;transform-origin:0 0;transform:scaleX(1.0029);">Related Injury ED Visits in Q3 2025 vs. Prior 3-Year Average</div>
<svg class="abs" style="left:845px;top:533px" width="328" height="5"><rect x="1.00" y="1.85" width="325.80" height="1.50" fill="#000"/></svg>
<svg class="abs" style="left:845px;top:564px" width="328" height="5"><rect x="1.00" y="1.95" width="325.80" height="1.50" fill="#000"/></svg>
<div class="t b" style="font-size:12.00px;line-height:14px;top:544px;color:#000;font-weight:700;left:888.90px;transform-origin:50% 0;transform:translateX(-50%) scaleX(0.8590);">County</div>
<div class="t b" style="font-size:12.00px;line-height:14px;top:544px;color:#000;font-weight:700;left:976.00px;transform-origin:50% 0;transform:translateX(-50%) scaleX(0.8611);">Group</div>
<div class="t b" style="font-size:12.00px;line-height:14px;top:536px;color:#000;font-weight:700;left:1058.20px;transform-origin:50% 0;transform:translateX(-50%) scaleX(0.8583);">Number of</div>
<div class="t b" style="font-size:12.00px;line-height:14px;top:551px;color:#000;font-weight:700;left:1058.20px;transform-origin:50% 0;transform:translateX(-50%) scaleX(0.8644);">Visits</div>
<div class="t b" style="font-size:12.00px;line-height:14px;top:536px;color:#000;font-weight:700;left:1133.30px;transform-origin:50% 0;transform:translateX(-50%) scaleX(0.8630);">Percent</div>
<div class="t b" style="font-size:12.00px;line-height:14px;top:551px;color:#000;font-weight:700;left:1133.30px;transform-origin:50% 0;transform:translateX(-50%) scaleX(0.8624);">Increase</div>
<div class="r" style="left:931.00px;top:567.50px;width:240.80px;height:13.97px;background:#f0f0f0;"></div>
<div class="t" style="font-size:12.54px;line-height:14px;top:567px;color:#141414;left:848.20px;transform-origin:0 0;transform:scaleX(0.8148);">Cabarrus</div>
<div class="t" style="font-size:12.54px;line-height:14px;top:567px;color:#141414;left:976.00px;transform-origin:50% 0;transform:translateX(-50%) scaleX(0.8267);">Ages 10-17</div>
<div class="t" style="font-size:12.54px;line-height:14px;top:567px;color:#141414;left:1058.50px;transform-origin:50% 0;transform:translateX(-50%) scaleX(0.7875);">7</div>
<div class="t" style="font-size:12.54px;line-height:14px;top:567px;color:#141414;left:1133.60px;transform-origin:50% 0;transform:translateX(-50%) scaleX(0.8381);">+600%</div>
<div class="t" style="font-size:12.54px;line-height:14px;top:583px;color:#141414;left:848.20px;transform-origin:0 0;transform:scaleX(0.8164);">Cleveland</div>
<div class="t" style="font-size:12.54px;line-height:14px;top:583px;color:#141414;left:976.00px;transform-origin:50% 0;transform:translateX(-50%) scaleX(0.8281);">Male</div>
<div class="t" style="font-size:12.54px;line-height:14px;top:583px;color:#141414;left:1058.50px;transform-origin:50% 0;transform:translateX(-50%) scaleX(0.7525);">10</div>
<div class="t" style="font-size:12.54px;line-height:14px;top:583px;color:#141414;left:1133.60px;transform-origin:50% 0;transform:translateX(-50%) scaleX(0.8381);">+233%</div>
<div class="r" style="left:931.00px;top:598.25px;width:240.80px;height:13.97px;background:#f0f0f0;"></div>
<div class="t" style="font-size:12.54px;line-height:14px;top:598px;color:#141414;left:848.20px;transform-origin:0 0;transform:scaleX(0.8230);">Davidson</div>
<div class="t" style="font-size:12.54px;line-height:14px;top:598px;color:#141414;left:976.00px;transform-origin:50% 0;transform:translateX(-50%) scaleX(0.8267);">Ages 45-64</div>
<div class="t" style="font-size:12.54px;line-height:14px;top:598px;color:#141414;left:1058.50px;transform-origin:50% 0;transform:translateX(-50%) scaleX(0.7875);">7</div>
<div class="t" style="font-size:12.54px;line-height:14px;top:598px;color:#141414;left:1133.60px;transform-origin:50% 0;transform:translateX(-50%) scaleX(0.8381);">+250%</div>
<div class="t" style="font-size:12.54px;line-height:14px;top:614px;color:#141414;left:848.20px;transform-origin:0 0;transform:scaleX(0.8091);">Halifax</div>
<div class="t" style="font-size:12.54px;line-height:14px;top:614px;color:#141414;left:976.00px;transform-origin:50% 0;transform:translateX(-50%) scaleX(0.8267);">Ages 10-17</div>
<div class="t" style="font-size:12.54px;line-height:14px;top:614px;color:#141414;left:1058.50px;transform-origin:50% 0;transform:translateX(-50%) scaleX(0.7875);">6</div>
<div class="t" style="font-size:12.54px;line-height:14px;top:614px;color:#141414;left:1133.60px;transform-origin:50% 0;transform:translateX(-50%) scaleX(0.8381);">+500%</div>
<div class="r" style="left:931.00px;top:628.99px;width:240.80px;height:13.97px;background:#f0f0f0;"></div>
<div class="t" style="font-size:12.54px;line-height:14px;top:629px;color:#141414;left:848.20px;transform-origin:0 0;transform:scaleX(0.8392);">Hertford</div>
<div class="t" style="font-size:12.54px;line-height:14px;top:629px;color:#141414;left:976.00px;transform-origin:50% 0;transform:translateX(-50%) scaleX(0.8269);">White</div>
<div class="t" style="font-size:12.54px;line-height:14px;top:629px;color:#141414;left:1058.50px;transform-origin:50% 0;transform:translateX(-50%) scaleX(0.7875);">6</div>
<div class="t" style="font-size:12.54px;line-height:14px;top:629px;color:#141414;left:1133.60px;transform-origin:50% 0;transform:translateX(-50%) scaleX(0.8381);">+500%</div>
<div class="t" style="font-size:12.54px;line-height:14px;top:644px;color:#141414;left:976.00px;transform-origin:50% 0;transform:translateX(-50%) scaleX(0.8318);">Black</div>
<div class="t" style="font-size:12.54px;line-height:14px;top:644px;color:#141414;left:1058.50px;transform-origin:50% 0;transform:translateX(-50%) scaleX(0.7875);">6</div>
<div class="t" style="font-size:12.54px;line-height:14px;top:644px;color:#141414;left:1133.60px;transform-origin:50% 0;transform:translateX(-50%) scaleX(0.8381);">+300%</div>
<div class="r" style="left:931.00px;top:659.74px;width:240.80px;height:13.97px;background:#f0f0f0;"></div>
<div class="t" style="font-size:12.54px;line-height:14px;top:660px;color:#141414;left:976.00px;transform-origin:50% 0;transform:translateX(-50%) scaleX(0.8376);">Non-Hispanic</div>
<div class="t" style="font-size:12.54px;line-height:14px;top:660px;color:#141414;left:1058.50px;transform-origin:50% 0;transform:translateX(-50%) scaleX(0.7875);">7</div>
<div class="t" style="font-size:12.54px;line-height:14px;top:660px;color:#141414;left:1133.60px;transform-origin:50% 0;transform:translateX(-50%) scaleX(0.8381);">+250%</div>
<div class="t" style="font-size:12.54px;line-height:14px;top:675px;color:#141414;left:848.20px;transform-origin:0 0;transform:scaleX(0.8398);">Montgomery</div>
<div class="t" style="font-size:12.54px;line-height:14px;top:675px;color:#141414;left:976.00px;transform-origin:50% 0;transform:translateX(-50%) scaleX(0.8281);">Male</div>
<div class="t" style="font-size:12.54px;line-height:14px;top:675px;color:#141414;left:1058.50px;transform-origin:50% 0;transform:translateX(-50%) scaleX(0.7875);">7</div>
<div class="t" style="font-size:12.54px;line-height:14px;top:675px;color:#141414;left:1133.60px;transform-origin:50% 0;transform:translateX(-50%) scaleX(0.8381);">+250%</div>
<div class="r" style="left:931.00px;top:690.48px;width:240.80px;height:13.97px;background:#f0f0f0;"></div>
<div class="t" style="font-size:12.54px;line-height:14px;top:690px;color:#141414;left:976.00px;transform-origin:50% 0;transform:translateX(-50%) scaleX(0.8269);">White</div>
<div class="t" style="font-size:12.54px;line-height:14px;top:690px;color:#141414;left:1058.50px;transform-origin:50% 0;transform:translateX(-50%) scaleX(0.7875);">8</div>
<div class="t" style="font-size:12.54px;line-height:14px;top:690px;color:#141414;left:1133.60px;transform-origin:50% 0;transform:translateX(-50%) scaleX(0.8381);">+300%</div>
<div class="t" style="font-size:12.54px;line-height:14px;top:706px;color:#141414;left:976.00px;transform-origin:50% 0;transform:translateX(-50%) scaleX(0.8318);">Black</div>
<div class="t" style="font-size:12.54px;line-height:14px;top:706px;color:#141414;left:1058.50px;transform-origin:50% 0;transform:translateX(-50%) scaleX(0.7875);">7</div>
<div class="t" style="font-size:12.54px;line-height:14px;top:706px;color:#141414;left:1133.60px;transform-origin:50% 0;transform:translateX(-50%) scaleX(0.8381);">+250%</div>
<div class="r" style="left:931.00px;top:721.23px;width:240.80px;height:13.97px;background:#f0f0f0;"></div>
<div class="t" style="font-size:12.54px;line-height:14px;top:721px;color:#141414;left:848.20px;transform-origin:0 0;transform:scaleX(0.8241);">Richmond</div>
<div class="t" style="font-size:12.54px;line-height:14px;top:721px;color:#141414;left:976.00px;transform-origin:50% 0;transform:translateX(-50%) scaleX(0.8015);">Female</div>
<div class="t" style="font-size:12.54px;line-height:14px;top:721px;color:#141414;left:1058.50px;transform-origin:50% 0;transform:translateX(-50%) scaleX(0.7875);">6</div>
<div class="t" style="font-size:12.54px;line-height:14px;top:721px;color:#141414;left:1133.60px;transform-origin:50% 0;transform:translateX(-50%) scaleX(0.8381);">+500%</div>
<div class="t" style="font-size:12.54px;line-height:14px;top:737px;color:#141414;left:976.00px;transform-origin:50% 0;transform:translateX(-50%) scaleX(0.8376);">Non-Hispanic</div>
<div class="t" style="font-size:12.54px;line-height:14px;top:737px;color:#141414;left:1058.50px;transform-origin:50% 0;transform:translateX(-50%) scaleX(0.8067);">11</div>
<div class="t" style="font-size:12.54px;line-height:14px;top:737px;color:#141414;left:1133.60px;transform-origin:50% 0;transform:translateX(-50%) scaleX(0.8381);">+340%</div>
<div class="r" style="left:931.00px;top:751.98px;width:240.80px;height:13.97px;background:#f0f0f0;"></div>
<div class="t" style="font-size:12.54px;line-height:14px;top:752px;color:#141414;left:976.00px;transform-origin:50% 0;transform:translateX(-50%) scaleX(0.8318);">Black</div>
<div class="t" style="font-size:12.54px;line-height:14px;top:752px;color:#141414;left:1058.50px;transform-origin:50% 0;transform:translateX(-50%) scaleX(0.7875);">8</div>
<div class="t" style="font-size:12.54px;line-height:14px;top:752px;color:#141414;left:1133.60px;transform-origin:50% 0;transform:translateX(-50%) scaleX(0.8381);">+300%</div>
<div class="t" style="font-size:12.54px;line-height:14px;top:767px;color:#141414;left:976.00px;transform-origin:50% 0;transform:translateX(-50%) scaleX(0.8281);">Male</div>
<div class="t" style="font-size:12.54px;line-height:14px;top:767px;color:#141414;left:1058.50px;transform-origin:50% 0;transform:translateX(-50%) scaleX(0.8067);">11</div>
<div class="t" style="font-size:12.54px;line-height:14px;top:767px;color:#141414;left:1133.60px;transform-origin:50% 0;transform:translateX(-50%) scaleX(0.8381);">+267%</div>
<div class="r" style="left:931.00px;top:782.72px;width:240.80px;height:13.97px;background:#f0f0f0;"></div>
<div class="t" style="font-size:12.54px;line-height:14px;top:783px;color:#141414;left:848.20px;transform-origin:0 0;transform:scaleX(0.8702);">Union</div>
<div class="t" style="font-size:12.54px;line-height:14px;top:783px;color:#141414;left:976.00px;transform-origin:50% 0;transform:translateX(-50%) scaleX(0.8267);">Ages 18-24</div>
<div class="t" style="font-size:12.54px;line-height:14px;top:783px;color:#141414;left:1058.50px;transform-origin:50% 0;transform:translateX(-50%) scaleX(0.7875);">6</div>
<div class="t" style="font-size:12.54px;line-height:14px;top:783px;color:#141414;left:1133.60px;transform-origin:50% 0;transform:translateX(-50%) scaleX(0.8381);">+300%</div>
<div class="t" style="font-size:12.54px;line-height:14px;top:651px;color:#141414;left:848.20px;transform-origin:0 0;transform:scaleX(0.7886);">Lee</div>
<div class="t" style="font-size:12.54px;line-height:14px;top:697px;color:#141414;left:848.20px;transform-origin:0 0;transform:scaleX(0.8254);">Onslow</div>
<div class="t" style="font-size:12.54px;line-height:14px;top:751px;color:#141414;left:848.20px;transform-origin:0 0;transform:scaleX(0.8309);">Sampson</div>
<svg class="abs" style="left:845px;top:580px" width="328" height="4"><rect x="1.00" y="1.37" width="325.80" height="1.40" fill="#000"/></svg>
<svg class="abs" style="left:845px;top:595px" width="328" height="5"><rect x="1.00" y="1.75" width="325.80" height="1.40" fill="#000"/></svg>
<svg class="abs" style="left:845px;top:611px" width="328" height="4"><rect x="1.00" y="1.12" width="325.80" height="1.40" fill="#000"/></svg>
<svg class="abs" style="left:845px;top:626px" width="328" height="4"><rect x="1.00" y="1.49" width="325.80" height="1.40" fill="#000"/></svg>
<svg class="abs" style="left:845px;top:641px" width="328" height="5"><rect x="1.00" y="1.87" width="325.80" height="1.40" fill="#000"/></svg>
<svg class="abs" style="left:845px;top:672px" width="328" height="5"><rect x="1.00" y="1.61" width="325.80" height="1.40" fill="#000"/></svg>
<svg class="abs" style="left:845px;top:687px" width="328" height="5"><rect x="1.00" y="1.98" width="325.80" height="1.40" fill="#000"/></svg>
<svg class="abs" style="left:845px;top:718px" width="328" height="5"><rect x="1.00" y="1.73" width="325.80" height="1.40" fill="#000"/></svg>
<svg class="abs" style="left:845px;top:734px" width="328" height="4"><rect x="1.00" y="1.10" width="325.80" height="1.40" fill="#000"/></svg>
<svg class="abs" style="left:845px;top:780px" width="328" height="4"><rect x="1.00" y="1.22" width="325.80" height="1.40" fill="#000"/></svg>
<svg class="abs" style="left:845px;top:795px" width="328" height="5"><rect x="1.00" y="1.30" width="325.80" height="2.00" fill="#000"/></svg>
<div class="t" style="font-size:9.44px;line-height:11px;top:800px;color:#141414;left:847.90px;transform-origin:0 0;transform:scaleX(0.9471);">Note: Significant is defined as an observation count for Q3, 2025 that is &gt; 2 standard</div>
<div class="t" style="font-size:9.44px;line-height:11px;top:811px;color:#141414;left:847.90px;transform-origin:0 0;transform:scaleX(0.9451);">deviations from the mean of observations for Q3 of 2022-2024.</div>
<div class="t" style="font-size:9.44px;line-height:11px;top:833px;color:#141414;left:847.90px;transform-origin:0 0;transform:scaleX(0.9474);">The table is limited to top 15 county-level groups with the highest percent increase</div>
<div class="t" style="font-size:9.44px;line-height:11px;top:845px;color:#141414;left:847.90px;transform-origin:0 0;transform:scaleX(0.9482);">from the mean. There were a total of 54 county-level groups with significant increases</div>
<div class="t" style="font-size:9.44px;line-height:11px;top:855px;color:#141414;left:847.90px;transform-origin:0 0;transform:scaleX(0.9457);">in firearm-injury ED visits.</div>
<div class="r" style="left:818.60px;top:876.20px;width:879.60px;height:27.70px;background:#2e66aa;"></div>
<div class="t b" style="font-size:15.30px;line-height:17px;top:338px;color:#2f6db5;font-weight:700;left:1221.30px;transform-origin:0 0;transform:scaleX(0.9834);">Firearm-related injury ED visits remained steady from July -</div>
<div class="t b" style="font-size:15.30px;line-height:17px;top:356px;color:#2f6db5;font-weight:700;left:1221.30px;transform-origin:0 0;transform:scaleX(0.9787);">September 2025.</div>
<div class="t b" style="font-size:11.30px;line-height:12px;top:378px;color:#000;font-weight:700;left:1221.00px;transform-origin:0 0;transform:scaleX(1.0008);">Firearm-Related Injury ED Visits by Month: 2023-2025</div>
<div class="t" style="font-size:12.21px;line-height:14px;top:398px;color:#111;left:1220.80px;transform-origin:0 0;transform:scaleX(0.7297);-webkit-text-stroke:0.35px;">Number of ED Visits</div>
<svg class="abs" style="left:1215px;top:395px" width="485" height="140" viewBox="1215 395 485 140">
<line x1="1249" y1="528" x2="1693" y2="528" stroke="#595959" stroke-width="1.1"/>
<path d="M1267.6 476.0 C1273.8 477.1 1292.3 482.5 1304.6 482.5 C1316.9 482.5 1329.2 478.8 1341.6 476.0 C1353.9 473.2 1366.2 466.5 1378.6 465.6 C1390.9 464.7 1403.2 470.9 1415.6 470.8 C1427.9 470.7 1440.2 468.0 1452.5 465.1 C1464.9 462.1 1477.2 452.5 1489.5 453.1 C1501.9 453.8 1514.2 464.4 1526.5 469.0 C1538.9 473.5 1551.2 481.0 1563.5 480.4 C1575.8 479.9 1588.2 467.4 1600.5 465.6 C1612.8 463.8 1625.2 467.8 1637.5 469.5 C1649.8 471.2 1668.3 474.9 1674.5 476.0" fill="none" stroke="#bdbdbd" stroke-width="2.2"/>
<polygon points="1267.6,471.6 1271.6,478.8 1263.6,478.8" fill="#bdbdbd"/>
<polygon points="1304.6,478.1 1308.6,485.3 1300.6,485.3" fill="#bdbdbd"/>
<polygon points="1341.6,471.6 1345.6,478.8 1337.6,478.8" fill="#bdbdbd"/>
<polygon points="1378.6,461.2 1382.6,468.4 1374.6,468.4" fill="#bdbdbd"/>
<polygon points="1415.6,466.4 1419.6,473.6 1411.6,473.6" fill="#bdbdbd"/>
<polygon points="1452.5,460.7 1456.5,467.9 1448.5,467.9" fill="#bdbdbd"/>
<polygon points="1489.5,448.7 1493.5,455.9 1485.5,455.9" fill="#bdbdbd"/>
<polygon points="1526.5,464.6 1530.5,471.8 1522.5,471.8" fill="#bdbdbd"/>
<polygon points="1563.5,476.0 1567.5,483.2 1559.5,483.2" fill="#bdbdbd"/>
<polygon points="1600.5,461.2 1604.5,468.4 1596.5,468.4" fill="#bdbdbd"/>
<polygon points="1637.5,465.1 1641.5,472.3 1633.5,472.3" fill="#bdbdbd"/>
<polygon points="1674.5,471.6 1678.5,478.8 1670.5,478.8" fill="#bdbdbd"/>
<path d="M1267.6 484.3 C1273.8 483.8 1292.3 482.6 1304.6 481.2 C1316.9 479.8 1329.2 477.4 1341.6 476.0 C1353.9 474.6 1366.2 474.3 1378.6 472.9 C1390.9 471.5 1403.2 467.6 1415.6 467.4 C1427.9 467.2 1440.2 471.8 1452.5 471.6 C1464.9 471.4 1477.2 465.4 1489.5 466.1 C1501.9 466.9 1514.2 474.1 1526.5 476.0 C1538.9 477.9 1551.2 477.4 1563.5 477.3 C1575.8 477.2 1588.2 474.8 1600.5 475.5 C1612.8 476.1 1625.2 480.9 1637.5 481.2 C1649.8 481.5 1668.3 478.0 1674.5 477.3" fill="none" stroke="#a9d8cb" stroke-width="2.2"/>
<circle cx="1267.6" cy="484.3" r="3.8" fill="#a9d8cb"/>
<circle cx="1304.6" cy="481.2" r="3.8" fill="#a9d8cb"/>
<circle cx="1341.6" cy="476.0" r="3.8" fill="#a9d8cb"/>
<circle cx="1378.6" cy="472.9" r="3.8" fill="#a9d8cb"/>
<circle cx="1415.6" cy="467.4" r="3.8" fill="#a9d8cb"/>
<circle cx="1452.5" cy="471.6" r="3.8" fill="#a9d8cb"/>
<circle cx="1489.5" cy="466.1" r="3.8" fill="#a9d8cb"/>
<circle cx="1526.5" cy="476.0" r="3.8" fill="#a9d8cb"/>
<circle cx="1563.5" cy="477.3" r="3.8" fill="#a9d8cb"/>
<circle cx="1600.5" cy="475.5" r="3.8" fill="#a9d8cb"/>
<circle cx="1637.5" cy="481.2" r="3.8" fill="#a9d8cb"/>
<circle cx="1674.5" cy="477.3" r="3.8" fill="#a9d8cb"/>
<path d="M1267.6 481.7 C1273.8 483.4 1292.3 491.3 1304.6 491.6 C1316.9 492.0 1329.2 485.1 1341.6 483.8 C1353.9 482.5 1366.2 485.3 1378.6 483.8 C1390.9 482.3 1403.2 476.3 1415.6 475.0 C1427.9 473.7 1440.2 476.2 1452.5 476.0 C1464.9 475.8 1477.2 473.5 1489.5 473.9 C1501.9 474.4 1514.2 478.1 1526.5 478.6 C1538.9 479.1 1557.4 477.1 1563.5 476.8" fill="none" stroke="#2f639f" stroke-width="2.5"/>
<polygon points="1267.6,477.5 1271.3,481.7 1267.6,485.9 1263.9,481.7" fill="#264f85"/>
<polygon points="1304.6,487.4 1308.3,491.6 1304.6,495.8 1300.9,491.6" fill="#264f85"/>
<polygon points="1341.6,479.6 1345.3,483.8 1341.6,488.0 1337.9,483.8" fill="#264f85"/>
<polygon points="1378.6,479.6 1382.3,483.8 1378.6,488.0 1374.9,483.8" fill="#264f85"/>
<polygon points="1415.6,470.8 1419.3,475.0 1415.6,479.2 1411.9,475.0" fill="#264f85"/>
<polygon points="1452.5,471.8 1456.2,476.0 1452.5,480.2 1448.8,476.0" fill="#264f85"/>
<polygon points="1489.5,469.7 1493.2,473.9 1489.5,478.1 1485.8,473.9" fill="#264f85"/>
<polygon points="1526.5,474.4 1530.2,478.6 1526.5,482.8 1522.8,478.6" fill="#264f85"/>
<polygon points="1563.5,472.6 1567.2,476.8 1563.5,481.0 1559.8,476.8" fill="#264f85"/>
<line x1="1389.8" y1="410.3" x2="1408.5" y2="410.3" stroke="#bdbdbd" stroke-width="2.2"/><polygon points="1399,405.9 1403,413.1 1395,413.1" fill="#bdbdbd"/>
<line x1="1450" y1="410.3" x2="1469.5" y2="410.3" stroke="#a9d8cb" stroke-width="2.2"/><circle cx="1460" cy="410.3" r="3.8" fill="#a9d8cb"/>
<line x1="1511.5" y1="410.3" x2="1531.5" y2="410.3" stroke="#2f639f" stroke-width="2.5"/><polygon points="1521.5,406.1 1525.2,410.3 1521.5,414.5 1517.8,410.3" fill="#264f85"/>
</svg>
<div class="t b" style="font-size:11.60px;line-height:13px;top:404px;color:#000;font-weight:700;left:1410.00px;transform-origin:0 0;transform:scaleX(0.9807);">2023</div>
<div class="t b" style="font-size:11.60px;line-height:13px;top:404px;color:#000;font-weight:700;left:1471.20px;transform-origin:0 0;transform:scaleX(0.9807);">2024</div>
<div class="t b" style="font-size:11.60px;line-height:13px;top:404px;color:#000;font-weight:700;left:1532.80px;transform-origin:0 0;transform:scaleX(0.9807);">2025</div>
<div class="t b" style="font-size:10.40px;line-height:11px;top:422px;color:#111;font-weight:700;right:760.20px;transform-origin:100% 0;transform:scaleX(0.8937);">750</div>
<div class="t b" style="font-size:10.40px;line-height:11px;top:456px;color:#111;font-weight:700;right:760.20px;transform-origin:100% 0;transform:scaleX(0.8937);">500</div>
<div class="t b" style="font-size:10.40px;line-height:11px;top:490px;color:#111;font-weight:700;right:760.20px;transform-origin:100% 0;transform:scaleX(0.8937);">250</div>
<div class="t b" style="font-size:10.40px;line-height:11px;top:524px;color:#111;font-weight:700;right:760.20px;transform-origin:100% 0;transform:scaleX(0.8995);">0</div>
<div class="t" style="font-size:8.44px;line-height:10px;top:517px;color:#141414;font-style:italic;right:310.00px;transform-origin:100% 0;transform:scaleX(0.8934);">Data current as of December 01, 2025</div>
<div class="t b" style="font-size:11.20px;line-height:12px;top:538px;color:#111;font-weight:700;left:1267.60px;transform-origin:50% 0;transform:translateX(-50%) scaleX(0.7520);">Jan</div>
<div class="t b" style="font-size:11.20px;line-height:12px;top:538px;color:#111;font-weight:700;left:1304.59px;transform-origin:50% 0;transform:translateX(-50%) scaleX(0.7793);">Feb</div>
<div class="t b" style="font-size:11.20px;line-height:12px;top:538px;color:#111;font-weight:700;left:1341.58px;transform-origin:50% 0;transform:translateX(-50%) scaleX(0.8791);">Mar</div>
<div class="t b" style="font-size:11.20px;line-height:12px;top:538px;color:#111;font-weight:700;left:1378.57px;transform-origin:50% 0;transform:translateX(-50%) scaleX(0.7780);">Apr</div>
<div class="t b" style="font-size:11.20px;line-height:12px;top:538px;color:#111;font-weight:700;left:1415.56px;transform-origin:50% 0;transform:translateX(-50%) scaleX(0.8270);">May</div>
<div class="t b" style="font-size:11.20px;line-height:12px;top:538px;color:#111;font-weight:700;left:1452.55px;transform-origin:50% 0;transform:translateX(-50%) scaleX(0.7290);">Jun</div>
<div class="t b" style="font-size:11.20px;line-height:12px;top:538px;color:#111;font-weight:700;left:1489.54px;transform-origin:50% 0;transform:translateX(-50%) scaleX(0.7111);">Jul</div>
<div class="t b" style="font-size:11.20px;line-height:12px;top:538px;color:#111;font-weight:700;left:1526.53px;transform-origin:50% 0;transform:translateX(-50%) scaleX(0.7816);">Aug</div>
<div class="t b" style="font-size:11.20px;line-height:12px;top:538px;color:#111;font-weight:700;left:1563.52px;transform-origin:50% 0;transform:translateX(-50%) scaleX(0.8037);">Sep</div>
<div class="t b" style="font-size:11.20px;line-height:12px;top:538px;color:#111;font-weight:700;left:1600.51px;transform-origin:50% 0;transform:translateX(-50%) scaleX(0.8040);">Oct</div>
<div class="t b" style="font-size:11.20px;line-height:12px;top:538px;color:#111;font-weight:700;left:1637.50px;transform-origin:50% 0;transform:translateX(-50%) scaleX(0.7805);">Nov</div>
<div class="t b" style="font-size:11.20px;line-height:12px;top:538px;color:#111;font-weight:700;left:1674.49px;transform-origin:50% 0;transform:translateX(-50%) scaleX(0.8037);">Dec</div>
<div class="t" style="font-size:10.77px;line-height:12px;top:563px;color:#141414;left:1223.90px;transform-origin:0 0;transform:scaleX(0.9629);">The number of firearm-related injury ED visits in July - September 2025 was similar to the number of</div>
<div class="t" style="font-size:10.77px;line-height:12px;top:577px;color:#141414;left:1223.90px;transform-origin:0 0;transform:scaleX(0.9608);">visits in Quarter 3 of previous years.</div>
<div class="t b" style="font-size:14.90px;line-height:16px;top:604px;color:#2f6db5;font-weight:700;left:1220.50px;transform-origin:0 0;transform:scaleX(1.0102);">Most firearm-related injury ED visits (69%) from July - September</div>
<div class="t b" style="font-size:14.90px;line-height:16px;top:622px;color:#2f6db5;font-weight:700;left:1220.50px;transform-origin:0 0;transform:scaleX(1.0093);">2025 were coded as unintentional injuries.</div>
<svg class="abs" style="left:1295px;top:646px" width="3" height="190"><rect x="1.00" y="1.20" width="1.00" height="187.80" fill="#d4d4d4"/></svg>
<div class="r" style="left:1296.50px;top:653.00px;width:189.50px;height:33.00px;background:#2e66aa;"></div>
<div class="t b" style="font-size:11.60px;line-height:13px;top:664px;color:#000;font-weight:700;right:712.90px;transform-origin:100% 0;transform:scaleX(0.9854);">Unintentional</div>
<div class="t b" style="font-size:11.60px;line-height:13px;top:664px;color:#000;font-weight:700;left:1490.90px;transform-origin:0 0;transform:scaleX(0.9906);">69%</div>
<div class="r" style="left:1296.50px;top:700.80px;width:59.80px;height:32.20px;background:#bfbfbf;"></div>
<div class="t b" style="font-size:11.60px;line-height:13px;top:711px;color:#000;font-weight:700;right:712.90px;transform-origin:100% 0;transform:scaleX(0.9775);">Unknown</div>
<div class="t b" style="font-size:11.60px;line-height:13px;top:711px;color:#000;font-weight:700;left:1361.90px;transform-origin:0 0;transform:scaleX(0.9906);">22%</div>
<div class="r" style="left:1296.50px;top:748.40px;width:19.00px;height:32.20px;background:#bfbfbf;"></div>
<div class="t b" style="font-size:11.60px;line-height:13px;top:759px;color:#000;font-weight:700;right:712.90px;transform-origin:100% 0;transform:scaleX(0.9787);">Assault</div>
<div class="t b" style="font-size:11.60px;line-height:13px;top:759px;color:#000;font-weight:700;left:1320.80px;transform-origin:0 0;transform:scaleX(0.9842);">7%</div>
<div class="r" style="left:1296.50px;top:795.30px;width:5.30px;height:32.50px;background:#bfbfbf;"></div>
<div class="t b" style="font-size:11.60px;line-height:13px;top:806px;color:#000;font-weight:700;right:712.90px;transform-origin:100% 0;transform:scaleX(0.9701);">Self-Inflicted</div>
<div class="t b" style="font-size:11.60px;line-height:13px;top:806px;color:#000;font-weight:700;left:1307.00px;transform-origin:0 0;transform:scaleX(0.9842);">2%</div>
<div class="t" style="font-size:8.66px;line-height:10px;top:840px;color:#141414;left:1296.50px;transform-origin:50% 0;transform:translateX(-50%) scaleX(0.9588);">0%</div>
<div class="t" style="font-size:8.66px;line-height:10px;top:840px;color:#141414;left:1350.70px;transform-origin:50% 0;transform:translateX(-50%) scaleX(0.9522);">20%</div>
<div class="t" style="font-size:8.66px;line-height:10px;top:840px;color:#141414;left:1405.30px;transform-origin:50% 0;transform:translateX(-50%) scaleX(0.9522);">40%</div>
<div class="t" style="font-size:8.66px;line-height:10px;top:840px;color:#141414;left:1459.80px;transform-origin:50% 0;transform:translateX(-50%) scaleX(0.9522);">60%</div>
<div class="t" style="font-size:8.66px;line-height:10px;top:840px;color:#141414;left:1514.70px;transform-origin:50% 0;transform:translateX(-50%) scaleX(0.9522);">80%</div>
<div class="t" style="font-size:8.44px;line-height:10px;top:859px;color:#141414;font-style:italic;left:1271.00px;transform-origin:0 0;transform:scaleX(0.8900);">Data current as of December 01, 2025</div>
<div class="t b" style="font-size:9.90px;line-height:11px;top:649px;color:#000;font-weight:700;left:1545.50px;transform-origin:0 0;transform:scaleX(1.0459);">Intent coding in the ED visit</div>
<div class="t b" style="font-size:9.90px;line-height:11px;top:661px;color:#000;font-weight:700;left:1545.50px;transform-origin:0 0;transform:scaleX(1.0499);">data is inaccurate and in</div>
<div class="t b" style="font-size:9.90px;line-height:11px;top:674px;color:#000;font-weight:700;left:1545.50px;transform-origin:0 0;transform:scaleX(1.0451);">need of improvement for</div>
<div class="t b" style="font-size:9.90px;line-height:11px;top:686px;color:#000;font-weight:700;left:1545.50px;transform-origin:0 0;transform:scaleX(1.0466);">firearm injury tracking.</div>
<div class="t" style="font-size:10.99px;line-height:12px;top:709px;color:#141414;left:1545.50px;transform-origin:0 0;transform:scaleX(0.9281);">There is an</div>
<div class="t b" style="font-size:9.90px;line-height:11px;top:710px;color:#3472bb;font-weight:700;left:1600.60px;transform-origin:0 0;transform:scaleX(1.0449);">overcount of</div>
<div class="t b" style="font-size:9.90px;line-height:11px;top:723px;color:#3472bb;font-weight:700;left:1545.50px;transform-origin:0 0;transform:scaleX(1.0487);">unintentional firearm</div>
<div class="t b" style="font-size:9.90px;line-height:11px;top:735px;color:#3472bb;font-weight:700;left:1545.50px;transform-origin:0 0;transform:scaleX(1.0534);">injuries</div>
<div class="t" style="font-size:10.99px;line-height:12px;top:734px;color:#141414;left:1585.50px;transform-origin:0 0;transform:scaleX(0.9391);">and an undercount of</div>
<div class="t" style="font-size:10.99px;line-height:12px;top:746px;color:#141414;left:1545.50px;transform-origin:0 0;transform:scaleX(0.9422);">undetermined and intentional</div>
<div class="t" style="font-size:10.99px;line-height:12px;top:759px;color:#141414;left:1545.50px;transform-origin:0 0;transform:scaleX(0.9420);">injuries, such as assault and</div>
<div class="t" style="font-size:10.99px;line-height:12px;top:771px;color:#141414;left:1545.50px;transform-origin:0 0;transform:scaleX(0.9418);">self-harm.</div>
<div class="t" style="font-size:10.99px;line-height:12px;top:796px;color:#141414;left:1545.50px;transform-origin:0 0;transform:scaleX(0.9416);">ICD-10-CM coding guidance</div>
<div class="t" style="font-size:10.99px;line-height:12px;top:808px;color:#141414;left:1545.50px;transform-origin:0 0;transform:scaleX(0.9441);">currently defaults to</div>
<div class="t" style="font-size:10.99px;line-height:12px;top:820px;color:#141414;left:1545.50px;transform-origin:0 0;transform:scaleX(0.9393);">unintentional injury if intent is</div>
<div class="t" style="font-size:10.99px;line-height:12px;top:832px;color:#141414;left:1545.50px;transform-origin:0 0;transform:scaleX(0.9403);">not directly documented in the</div>
<div class="t" style="font-size:10.99px;line-height:12px;top:844px;color:#141414;left:1545.50px;transform-origin:0 0;transform:scaleX(0.9411);">medical record, and should be</div>
<div class="t" style="font-size:10.99px;line-height:12px;top:857px;color:#141414;left:1545.50px;transform-origin:0 0;transform:scaleX(0.9358);">revised.</div>
</div></div>
</div>
</body></html>
